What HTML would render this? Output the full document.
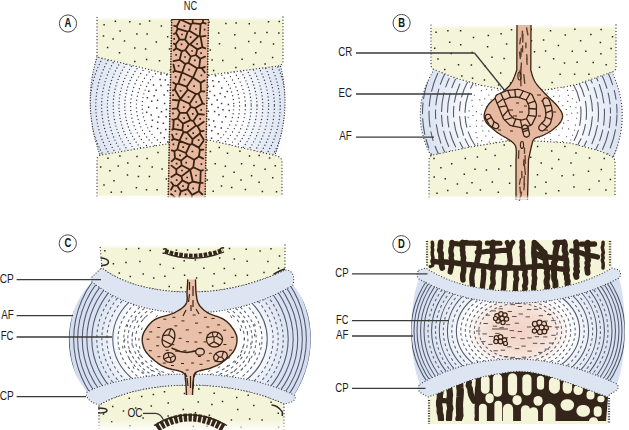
<!DOCTYPE html><html><head><meta charset="utf-8"><style>html,body{margin:0;padding:0;background:#fff;overflow:hidden;width:629px;height:430px}svg{display:block}</style></head><body><svg width="629" height="430" viewBox="0 0 629 430"><defs><linearGradient id="fadeY" x1="0" y1="0" x2="0" y2="1"><stop offset="0" stop-color="#fff" stop-opacity="1"/><stop offset="1" stop-color="#fff" stop-opacity="0"/></linearGradient><linearGradient id="fadeB" x1="0" y1="0" x2="0" y2="1"><stop offset="0" stop-color="#fff" stop-opacity="0"/><stop offset="1" stop-color="#fff" stop-opacity="1"/></linearGradient><linearGradient id="fadeB2" x1="0" y1="0" x2="0" y2="1"><stop offset="0" stop-color="#fff" stop-opacity="0"/><stop offset="1" stop-color="#fff" stop-opacity="0.85"/></linearGradient><radialGradient id="gA" cx="188" cy="106" r="100" gradientUnits="userSpaceOnUse"><stop offset="0" stop-color="#fff"/><stop offset="0.55" stop-color="#fff"/><stop offset="0.75" stop-color="#ebf0f8"/><stop offset="1" stop-color="#dce4f3"/></radialGradient><clipPath id="cA"><path d="M97,57 172,75 209,75 280,64 281.5,70 282.7,76 283.6,82 284.3,88.1 284.8,94.1 285,100.2 284.9,106.2 284.6,112.3 284,118.4 283.1,124.4 282,130.5 280.6,136.6 279,142.8 277.1,148.9 275,155 209,143 172,143 100,155 97.7,148.3 95.8,141.7 94.1,135.1 92.7,128.5 91.7,121.9 90.9,115.3 90.4,108.8 90.2,102.2 90.3,95.7 90.7,89.2 91.3,82.7 92.3,76.3 93.6,69.8 95.1,63.4 97,57Z"/></clipPath><radialGradient id="gB" cx="523" cy="113" r="103" gradientUnits="userSpaceOnUse"><stop offset="0" stop-color="#fff"/><stop offset="0.5" stop-color="#fff"/><stop offset="0.64" stop-color="#f2f5fb"/><stop offset="0.85" stop-color="#e2e9f5"/><stop offset="1" stop-color="#d9e2f2"/></radialGradient><clipPath id="cB"><path d="M434,69.5 455,77.9 480,85 505,90 545,90 575,85 612,72 614.5,77.6 616.6,83.2 618.4,88.9 619.9,94.5 621,100.2 621.8,105.9 622.2,111.6 622.2,117.4 622,123.1 621.3,128.9 620.4,134.7 619,140.5 617.4,146.3 615.4,152.1 613,158 600,151 570,143 537,141 507,141 470,147 431,156 428.2,150.1 425.7,144.3 423.8,138.5 422.2,132.6 421.1,126.8 420.4,121 420.2,115.3 420.4,109.5 421,103.7 422.1,98 423.6,92.3 425.6,86.6 427.9,80.9 430.8,75.2 434,69.5Z"/></clipPath><radialGradient id="gC" cx="190" cy="342" r="122" gradientUnits="userSpaceOnUse" gradientTransform="translate(190 342) scale(1 0.75) translate(-190 -342)"><stop offset="0" stop-color="#fff"/><stop offset="0.56" stop-color="#fff"/><stop offset="0.68" stop-color="#edf1f9"/><stop offset="0.82" stop-color="#dae2f2"/><stop offset="1" stop-color="#d4ddef"/></radialGradient><clipPath id="cC"><path d="M92,282 94.9,284.2 98.1,286.5 101.5,288.8 105,291.1 108.8,293.3 112.9,295.5 117.2,297.7 121.7,299.8 126.5,301.8 131.6,303.7 136.9,305.5 142.5,307.1 148.4,308.5 154.5,309.8 161,310.9 167.8,311.8 174.9,312.5 182.3,312.9 190,313 197,312.9 203.9,312.6 210.6,312 217.1,311.3 223.4,310.3 229.6,309.3 235.6,308 241.4,306.6 247,305.1 252.5,303.4 257.7,301.6 262.8,299.8 267.7,297.8 272.4,295.8 276.9,293.7 281.2,291.6 285.3,289.4 289.3,287.2 293,285 92,282 87.5,286.9 83.5,292.1 80,297.5 77,303.2 74.5,309.1 72.4,315.1 70.8,321.3 69.7,327.5 69,333.8 68.8,340.2 69.1,346.5 69.8,352.7 71,358.9 72.5,364.9 74.6,370.8 77,376.5 79.9,381.9 83.3,387.1 87,392 90.8,390.2 94.8,388.4 99.1,386.8 103.6,385.2 108.4,383.8 113.3,382.4 118.5,381.2 123.8,380 129.3,379 135,378 140.7,377.2 146.6,376.4 152.6,375.8 158.7,375.2 164.9,374.8 171.1,374.4 177.4,374.2 183.7,374 190,374 196.3,374.1 202.5,374.2 208.6,374.5 214.6,374.9 220.5,375.5 226.4,376.1 232.1,376.9 237.8,377.7 243.4,378.7 248.9,379.8 254.3,381 259.6,382.4 264.8,383.8 269.9,385.4 274.9,387.1 279.8,388.9 284.6,390.8 289.4,392.8 294,395 297.4,389.7 300.4,384.1 303,378.3 305.2,372.3 307.1,366.1 308.6,359.9 309.7,353.6 310.4,347.3 310.7,340.9 310.7,334.6 310.3,328.4 309.5,322.2 308.3,316.2 306.7,310.4 304.7,304.7 302.4,299.4 299.6,294.2 296.5,289.4 293,285Z"/></clipPath><radialGradient id="gD" cx="518" cy="331" r="110" gradientUnits="userSpaceOnUse" gradientTransform="translate(518 331) scale(1 0.72) translate(-518 -331)"><stop offset="0" stop-color="#f2d3c5"/><stop offset="0.24" stop-color="#f4dcd1"/><stop offset="0.38" stop-color="#f9ece6"/><stop offset="0.48" stop-color="#fff"/><stop offset="0.6" stop-color="#eef2f9"/><stop offset="0.8" stop-color="#dde4f2"/><stop offset="1" stop-color="#d6dff0"/></radialGradient><clipPath id="cD"><path d="M419,279 423.9,281.6 428.8,284 433.6,286.3 438.5,288.4 443.4,290.4 448.3,292.2 453.3,293.9 458.2,295.4 463.2,296.7 468.3,298 473.4,299.1 478.6,300 483.8,300.8 489.1,301.5 494.5,302 500,302.5 505.5,302.8 511.2,302.9 517,303 522.2,302.9 527.5,302.8 532.8,302.5 538.1,302 543.4,301.5 548.8,300.8 554.1,299.9 559.5,299 564.9,297.9 570.3,296.6 575.7,295.2 581.2,293.6 586.6,291.9 592,290 597.4,287.9 602.8,285.7 608.2,283.3 613.6,280.8 619,278 419,279 417.4,283.3 416,288 414.8,293.1 413.8,298.5 412.9,304.2 412.2,310 411.7,316 411.4,322.2 411.3,328.4 411.3,334.6 411.5,340.8 411.9,347 412.5,353 413.3,358.8 414.3,364.5 415.4,369.9 416.7,375 418.3,379.7 420,384 424.7,381.4 429.5,378.9 434.2,376.6 439,374.5 443.8,372.4 448.6,370.6 453.4,368.8 458.3,367.2 463.2,365.8 468.1,364.5 473.1,363.3 478.1,362.3 483.2,361.4 488.3,360.7 493.5,360.1 498.8,359.6 504.1,359.3 509.5,359.1 515,359 520.5,359.1 526,359.3 531.6,359.7 537.1,360.3 542.6,361 548.1,361.8 553.5,362.8 559,363.9 564.4,365.2 569.8,366.6 575.2,368.1 580.6,369.7 585.9,371.4 591.2,373.3 596.4,375.2 601.6,377.3 606.8,379.4 611.9,381.7 617,384 618.5,379.7 619.8,375 621,369.9 622,364.5 622.9,358.8 623.5,353 624.1,346.9 624.5,340.8 624.7,334.5 624.8,328.2 624.7,322 624.5,315.8 624.1,309.7 623.6,303.8 623,298 622.2,292.5 621.3,287.3 620.2,282.5 619,278Z"/></clipPath><clipPath id="cBT"><path d="M430,239 606,239 612,268 607.7,270.5 603.4,272.8 599,274.9 594.5,276.9 590,278.8 585.4,280.5 580.7,282.1 575.9,283.6 571.1,284.9 566.1,286.1 561.1,287.1 556,288 550.8,288.8 545.4,289.5 540,290.1 534.4,290.5 528.7,290.8 522.9,290.9 517,291 511.2,290.9 505.5,290.8 500,290.5 494.6,290.1 489.2,289.5 484,288.8 478.9,288 473.9,287.1 469,286.1 464.3,284.9 459.6,283.6 455,282.1 450.6,280.5 446.2,278.8 442,276.9 437.8,274.9 433.8,272.8 429.8,270.5 426,268Z"/></clipPath><clipPath id="cBB"><path d="M428,397 429.2,396.6 430.8,396 432.8,395.3 435,394.5 437.4,393.5 440,392.5 442.9,391.3 446.1,389.9 449.5,388.4 453,386.8 456.6,385.3 460,384 463.2,382.8 466.1,381.7 469.1,380.6 472.2,379.6 475.8,378.5 480,377.5 485.1,376.4 490.9,375.1 497.2,373.9 503.5,372.9 509.6,372 515,371.5 519.6,371.3 523.7,371.4 527.5,371.7 531.3,372.2 535.4,373 540,374 545.3,375.3 551,377 557,378.9 563.1,380.9 569.2,383 575,385 581,387.1 587.4,389.4 593.7,391.7 599.5,393.9 604.4,395.7 608,397 606,421 436,421Z"/></clipPath></defs><rect width="629" height="430" fill="#fff"/><path d="M97,57 172,75 209,75 280,64 281.5,70 282.7,76 283.6,82 284.3,88.1 284.8,94.1 285,100.2 284.9,106.2 284.6,112.3 284,118.4 283.1,124.4 282,130.5 280.6,136.6 279,142.8 277.1,148.9 275,155 209,143 172,143 100,155 97.7,148.3 95.8,141.7 94.1,135.1 92.7,128.5 91.7,121.9 90.9,115.3 90.4,108.8 90.2,102.2 90.3,95.7 90.7,89.2 91.3,82.7 92.3,76.3 93.6,69.8 95.1,63.4 97,57Z" fill="url(#gA)"/>
<g clip-path="url(#cA)" fill="none" stroke="#3c3c44" stroke-linecap="round"><circle cx="188" cy="106" r="98" stroke-width="1.4" stroke-dasharray="0 3.4"/><circle cx="188" cy="106" r="92.2" stroke-width="1.4" stroke-dasharray="0 3.4"/><circle cx="188" cy="106" r="86.4" stroke-width="1.4" stroke-dasharray="0 3.4"/><circle cx="188" cy="106" r="80.6" stroke-width="1.4" stroke-dasharray="0 3.4"/><circle cx="188" cy="106" r="74.8" stroke-width="1.4" stroke-dasharray="0 3.4"/><circle cx="188" cy="106" r="69" stroke-width="1.4" stroke-dasharray="0 3.4"/><circle cx="188" cy="106" r="63.2" stroke-width="1.4" stroke-dasharray="0 3.4"/><circle cx="188" cy="106" r="57.4" stroke-width="1.4" stroke-dasharray="0 3.9"/><circle cx="188" cy="106" r="51.6" stroke-width="1.4" stroke-dasharray="0 3.9"/><circle cx="188" cy="106" r="45.8" stroke-width="1.4" stroke-dasharray="0 3.9"/></g>
<path d="M156.8,108h0M225.7,116.7h0M177,108.9h0M201.7,92.2h0M157.6,128.5h0M202.3,109h0M214.6,111.6h0M192.5,106.9h0M175.7,114.6h0M165.8,129.5h0M218.9,81.8h0M185.2,92.3h0M182.1,83.2h0M202.6,87h0M221.7,88.1h0M222.1,122.1h0M184.6,121.6h0M171.9,95.2h0M153.5,84.9h0M208.1,86.6h0M151.2,115.1h0M213.6,86.2h0M170.6,124.2h0M187.4,133.1h0M164.2,95h0M167.7,141.9h0M225,96.8h0M208.7,75.5h0M151.7,101.3h0M208.3,111.3h0M201.6,121.7h0M211.6,138.3h0M158.6,117h0M176.2,84.3h0M187.9,78.3h0M197.3,89.1h0M192.6,117.8h0M172.5,100.7h0M213.7,121.1h0M206.4,129.7h0M209.9,91.6h0M157.6,100.3h0M166.1,116.8h0M176,124.7h0M154.1,95.7h0M211.8,104.4h0M193.5,77.1h0M192.6,130.4h0M198,104.9h0M182,133h0M229.2,110.6h0M163.4,123.2h0M191.5,93.1h0M176.7,135.5h0M208.7,98.6h0M202.6,99.1h0M183.7,141.2h0M186.1,109.8h0M179.4,101h0M166.7,74.8h0M193.4,135.5h0M178.3,95.2h0M178.5,76.3h0M203,76.2h0M170.7,131.3h0M220.2,93.6h0M161,85.5h0M221.3,127.9h0M205.6,139h0M217.2,100.1h0M197.8,117.2h0M192.5,140.8h0M167.7,90.7h0M218.9,114.8h0M164.3,137.8h0M166.4,109.4h0M228.4,104.5h0M199.7,137.9h0M192.4,82.9h0M183.2,115.7h0M160.1,79.4h0M168.1,84.8h0M186.4,101.6h0M148.8,91.3h0M164.6,103.6h0M152.4,120.3h0M172.1,79.7h0M209.3,125.2h0M148.6,107.3h0M221.6,103.5h0M193.1,99.8h0M212.8,80.8h0M211.7,130.8h0M180.2,89.4h0M200.5,128.7h0M202.7,81.6h0M170.3,105.6h0M160.7,133h0M208.8,119.5h0M189.5,123.7h0M204.4,116.3h0M175.6,140.9h0M174.6,89.5h0M218.1,107.4h0M196.1,122.3h0M185,128.1h0M223,109.7h0M157.7,122.3h0M188.6,88h0M151.5,126.4h0M172.7,119h0M195.9,112h0M218.2,133.7h0M161.5,111.7h0M169.5,136.4h0M147.4,97.8h0M215.5,75.8h0M179.3,119.2h0M171.1,112h0M206,103.7h0M156.2,90.3h0M215.1,126.8h0M227.3,91.5h0M214.5,95.6h0M165.3,80.1h0M197.6,96.1h0M182.6,105.5h0M177.7,129.7h0M198.1,142.9h0M183.7,75.1h0M146.7,112.2h0M197.7,83.6h0M161,73.9h0" stroke="#3c3c44" stroke-width="1.5" stroke-linecap="square" fill="none"/>
<path d="M97,57 95.1,63.4 93.6,69.8 92.3,76.3 91.3,82.7 90.7,89.2 90.3,95.7 90.2,102.2 90.4,108.8 90.9,115.3 91.7,121.9 92.7,128.5 94.1,135.1 95.8,141.7 97.7,148.3 100,155" fill="none" stroke="#333" stroke-width="1.3" stroke-dasharray="0 2.6" stroke-linecap="round"/>
<path d="M280,64 281.5,70 282.7,76 283.6,82 284.3,88.1 284.8,94.1 285,100.2 284.9,106.2 284.6,112.3 284,118.4 283.1,124.4 282,130.5 280.6,136.6 279,142.8 277.1,148.9 275,155" fill="none" stroke="#333" stroke-width="1.3" stroke-dasharray="0 2.6" stroke-linecap="round"/>
<path d="M97,17 283,17 283,61 283,61 283,61.5 282.9,62 282.8,62.5 282.6,62.9 282.4,63.3 282.2,63.7 281.9,64.1 281.6,64.4 281.2,64.7 280.8,65 280.3,65.3 279.8,65.5 279.2,65.7 278.6,65.9 278,66 209,75 172,75 97,57Z" fill="#f4f4d8"/>
<rect x="96" y="17" width="188" height="4" fill="url(#fadeY)"/>
<path d="M192.1,69h0M156.3,42.1h0M248.7,41.4h0M198.9,21.9h0M235.4,47.9h0M159.5,60.7h0M124.5,41.1h0M136.9,33.9h0M234.8,34.8h0M272.6,57.5h0M197.4,34.6h0M212.1,60.1h0M107.6,47.5h0M182.7,23.7h0M191.9,58.9h0M222.8,60.6h0M134.8,61.4h0M253.6,64.4h0M149.6,20.9h0M260.7,42.1h0M218.7,33h0M249.3,23.7h0M167.7,36.7h0M171.4,20.8h0M119.5,52.8h0M255.8,52.7h0M278.8,32.9h0M146.6,59.4h0M219.5,43.8h0M180.8,39.3h0M120.1,30.9h0M242.1,59.2h0M170.3,70.2h0M103.5,36h0M208.2,35.2h0M134.8,47.9h0M181.2,69.3h0M268.5,21.7h0M147.1,34h0M209.1,22.2h0M177.4,55.4h0M104.1,24.7h0M129.8,21.7h0M200.3,45.9h0M273.5,43.9h0M169.5,49.1h0M188.9,47.1h0M267,32.4h0M213.6,70.5h0M161.4,26.1h0M235.9,67.5h0M236.1,22.9h0M145.6,48.9h0M225.9,23.4h0M201.8,66.4h0M115.4,21.2h0M265.1,64.1h0M140,24h0M210.3,49.9h0M255,33.1h0M279.3,21.5h0M113.1,39h0" stroke="#2a2a2a" stroke-width="1.5" stroke-linecap="square" fill="none"/>
<path d="M283,17 283,61 283,61 283,61.5 282.9,62 282.8,62.5 282.6,62.9 282.4,63.3 282.2,63.7 281.9,64.1 281.6,64.4 281.2,64.7 280.8,65 280.3,65.3 279.8,65.5 279.2,65.7 278.6,65.9 278,66 209,75 172,75 97,57 97,57 97,17" fill="none" stroke="#333" stroke-width="1.3" stroke-dasharray="0 3.2" stroke-linecap="round"/>
<path d="M97,196 97,160 97,160 97,159.5 97.1,159 97.2,158.5 97.3,158.1 97.4,157.7 97.6,157.3 97.9,156.9 98.1,156.6 98.4,156.3 98.8,156 99.2,155.7 99.6,155.5 100,155.3 100.5,155.1 101,155 172,143 209,140 273,155 273,155 274,155.2 275,155.3 275.9,155.6 276.8,155.8 277.6,156.1 278.3,156.4 278.9,156.8 279.5,157.2 280.1,157.6 280.6,158.1 281,158.6 281.3,159.2 281.6,159.7 281.8,160.4 282,161 282,197Z" fill="#f4f4d8"/>
<path d="M147.1,158.4h0M207.3,179.9h0M149.4,176.4h0M200.6,151h0M177.5,177h0M272.7,177.7h0M170.2,152.9h0M162.1,169.1h0M259.1,182.3h0M157.1,189.7h0M136.4,187.7h0M221.5,186h0M215.2,163.8h0M192.5,173.2h0M254,165.4h0M225.4,166.3h0M169,192.2h0M104,185.1h0M118.2,166h0M190.2,190.4h0M234.1,172.2h0M108,158.3h0M275.3,165.8h0M178.9,158.6h0M262.4,191.6h0M241.6,163.8h0M227.5,153.2h0M137,156.4h0M121.4,191.9h0M259.2,155.6h0M127.8,163h0M201.8,191.5h0M231.7,187.6h0M241,179.9h0M114,180.8h0M276.5,191.7h0M188.2,155.7h0M210.4,151.5h0M158,152.6h0M245.4,189.4h0M109.9,170.7h0M139.5,166.2h0M181,186h0M202.8,160.7h0M265.1,169.3h0M191.6,146.4h0M127.5,175h0M207,169.9h0M146.5,189.7h0M166.3,178.9h0M239.9,151.2h0M213.2,191.3h0M138.4,176.6h0M223.1,176.6h0M172.6,168.7h0M100.7,166.9h0M269.6,158h0M179,146.6h0M249.5,156h0M251.6,175.7h0M152.2,167h0M183,169h0M119.9,156.1h0M111.3,192.2h0M219.3,147.5h0M197.5,182.9h0" stroke="#2a2a2a" stroke-width="1.5" stroke-linecap="square" fill="none"/>
<path d="M97,196 97,160 97,160 97,159.5 97.1,159 97.2,158.5 97.3,158.1 97.4,157.7 97.6,157.3 97.9,156.9 98.1,156.6 98.4,156.3 98.8,156 99.2,155.7 99.6,155.5 100,155.3 100.5,155.1 101,155 172,143 209,140 273,155 273,155 274,155.2 275,155.3 275.9,155.6 276.8,155.8 277.6,156.1 278.3,156.4 278.9,156.8 279.5,157.2 280.1,157.6 280.6,158.1 281,158.6 281.3,159.2 281.6,159.7 281.8,160.4 282,161 282,197" fill="none" stroke="#333" stroke-width="1.3" stroke-dasharray="0 3.2" stroke-linecap="round"/>
<path d="M171.5,19 208.7,19 205.3,198 168,198Z" fill="#e7b9a1"/>
<path d="M192.7,20L192.7,23.1M203,20L203,22.6M192.7,23.1L200.6,24.1M203,22.6L200.6,24.1M192.7,23.1L191,24.4M191,24.4L181.5,20M174.2,25.9L176.8,26.4M180,20L176.8,26.4M179.8,112.8L177.5,118.4M177.5,118.4L173.7,119.9M177.3,108.4L172.6,108.9M179.8,112.8L177.3,108.4M173.7,119.9L172.4,119.5M177.5,118.4L183.1,123.6M173.7,119.9L173.2,128.9M183.1,123.6L182.3,130.3M182.3,130.3L173.2,128.9M198.8,191.2L202.5,194.5M198.8,191.2L192.2,194.9M192.2,194.9L191.7,197M177.3,108.4L179.2,100.5M172.8,99.8L179.2,100.5M179.5,140.6L183.5,132M182.3,130.3L183.5,132M173.2,128.9L172.2,129.7M179.5,140.6L173.7,138.9M173.7,138.9L172.1,134.7M198.8,191.2L199.9,183.1M199.9,183.1L200.3,182.8M200.3,182.8L202.8,182.8M171,194L174.7,197M192.2,194.9L187.6,189.1M179.1,197L180.9,191.3M187.6,189.1L180.9,191.3M173.5,185.3L177.2,185.8M173.5,185.3L171,189.7M180.9,191.3L177.2,185.8M174.8,89.5L180.4,99.1M174.8,89.5L176.3,84.4M176.3,84.4L178.3,83.7M178.3,83.7L186.7,86.7M180.4,99.1L187.8,89.8M186.7,86.7L187.8,89.8M172.9,90.4L174.8,89.5M180.4,99.5L180.4,99.1M179.2,100.5L180.4,99.5M173.1,82.5L176.3,84.4M180.4,99.5L189.6,103.8M187.8,89.8L195.9,94M195.9,94L189.6,103.8M192.9,77.5L193,77.5M192.9,77.5L186.7,86.7M193,77.5L200.7,82.7M200.9,91.1L200.7,82.7M200.9,91.1L198.5,93.6M195.9,94L198.5,93.6M199.9,133.5L203.6,139.4M199.9,133.5L200.3,131.3M200.3,131.3L203.7,130.9M204.7,80.4L200.7,82.7M200.9,91.1L204.5,91.5M198.5,93.6L202.6,103.4M204.2,104L202.6,103.4M183.1,123.6L190.5,120.1M179.8,112.8L186.8,112.6M190.5,120.1L186.8,112.6M189.6,103.8L190.9,106.8M186.8,112.6L190.9,106.8M202.6,103.4L195.2,108.1M190.9,106.8L195.2,108.1M196,125.6L193.3,121.1M196,125.6L197.5,126.3M197.5,126.3L203.9,121.7M193.3,121.1L198,114M204,114.6L198,114M186.9,132.5L183.5,132M190.5,120.1L193.3,121.1M186.9,132.5L196,125.6M192.6,139.2L186.9,132.5M192.6,139.2L199.9,133.5M200.3,131.3L197.5,126.3M195.2,108.1L198,114M171.8,150.4L174.4,151.2M171.6,161.3L175,158.1M174.4,151.2L175,158.1M173.7,138.9L172,140M179.6,140.9L179.5,140.6M177.3,149.5L179.6,140.9M177.3,149.5L174.4,151.2M176.3,169.4L181.6,165.3M176.3,169.4L171.5,165.6M181.6,165.3L181.1,160.6M181.1,160.6L175,158.1M176.4,173.7L171.3,177.1M176.4,173.7L176.3,169.4M171.2,182.2L173.5,185.3M200.3,182.8L200.7,170.8M203,170.1L200.7,170.8M186,153L186.9,155.7M186,153L189.9,144.8M186.9,155.7L194.2,159.8M198.9,156.4L194.2,159.8M198.9,156.4L199.9,150M189.9,144.8L192,143.9M192,143.9L198.8,147.6M199.9,150L198.8,147.6M177.3,149.5L186,153M181.1,160.6L186.9,155.7M179.6,140.9L189.9,144.8M190.1,169.8L193.3,167.3M190.1,169.8L181.6,165.3M193.3,167.3L194.2,159.8M193.3,167.3L200.7,170.8M203.2,158.6L198.9,156.4M203.4,149.7L199.9,150M192.6,139.2L192,143.9M203.5,140.9L198.8,147.6M181.4,176.4L182.4,180.4M181.4,176.4L190.1,169.8M182.4,180.4L188.8,183.6M190.1,169.8L192.8,181.5M192.8,181.5L188.8,183.6M176.4,173.7L181.4,176.4M177.2,185.8L182.4,180.4M190.1,169.8L190.1,169.8M187.6,189.1L188.8,183.6M199.9,183.1L192.8,181.5M199.7,36.2L200.5,36.6M200.6,24.1L199.7,36.2M203,22.6L205.7,23.6M200.5,36.6L205.5,35.9M188.5,62.9L185.3,63.9M197.1,68.3L188.5,62.9M193,77.5L197.1,68.3M192.9,77.5L182.1,72.5M185.3,63.9L182.1,72.5M173.3,72L175,70.8M178.3,83.7L181.9,72.6M175,70.8L181.9,72.6M181.9,72.6L182.1,72.5M200.5,36.6L202.4,47.1M197.3,49.3L202.4,47.1M199.7,36.2L198.2,36.3M197.3,49.3L190.1,44.3M190.1,44.3L198.2,36.3M191,24.4L189.4,30.7M198.2,36.3L189.4,30.7M176.8,26.4L177.5,28.6M177.5,28.6L187.6,31.7M189.4,30.7L187.6,31.7M177.5,28.6L176.1,33M174,33.9L176.1,33M200.3,58.7L205.1,56.6M200.3,58.7L199.1,67.5M201.7,68.1L199.1,67.5M201.7,68.1L204.9,66.8M197.3,49.3L195.9,55M195.9,55L200.3,58.7M202.4,47.1L205.3,48.4M190.8,56.5L188.5,62.9M190.8,56.5L195.9,55M197.1,68.3L199.1,67.5M204.8,72.5L201.7,68.1M185.3,63.9L179.6,59.8M175,70.8L173.4,64.5M179.6,59.8L173.5,61.2M175.6,44.5L179.5,39.3M175.6,44.5L176.3,48.3M176.3,48.3L181.8,51.1M179.5,39.3L185.1,39.6M185.3,50.1L181.8,51.1M185.3,50.1L188.9,44.4M188.9,44.4L185.1,39.6M176.1,33L179.5,39.3M173.8,43.6L175.6,44.5M173.7,50.2L176.3,48.3M179.6,59.8L181.8,51.1M187.6,31.7L185.1,39.6M190.8,56.5L185.3,50.1M190.1,44.3L188.9,44.4" fill="none" stroke="#3a2313" stroke-width="1.8" stroke-linecap="round" stroke-linejoin="round"/>
<path d="M201.4,164.2h0M189,69.7h0M184.4,26.2h0M194.9,60.4h0M185.6,194.3h0M183.8,107.2h0M195.9,29h0M204.6,29.6h0M196,175.5h0M176.7,180.1h0M188.5,97h0M175.7,76.8h0M201.4,75.3h0M173.4,144.4h0M186.2,162.6h0M201.2,109.8h0M198.7,140.1h0M196.2,102h0M176.5,134h0M194.1,86.1h0M201.1,53.1h0M183.2,147.1h0M193.2,188.3h0M184.1,118.1h0M180.5,90.8h0M173,113.4h0M190.6,37.2h0M186.4,138.7h0M192.4,151.5h0M176.1,54.8h0M188,126.2h0M187.2,177.5h0M192.1,51h0M200.2,118.8h0M185.1,57h0M175.3,191.1h0M181.5,44.4h0M178.6,65.9h0M184.4,79.6h0M176.6,163.6h0M193.2,133.1h0M177.8,125h0M182,34.5h0M192.8,113.8h0M197.1,43.9h0M180,155.3h0M183,186.1h0M173.1,95.1h0M182,170.5h0M174.2,38.8h0" stroke="#3a2313" stroke-width="1.7" stroke-linecap="square" fill="none"/>
<path d="M171.7,20L168.2,198M208.5,20L205.1,198" fill="none" stroke="#3a2313" stroke-width="1.7" stroke-dasharray="0 2.6" stroke-linecap="round"/>
<path d="M171.5,19.5H208.7" stroke="#3a2313" stroke-width="1.2"/>
<rect x="95" y="194.5" width="190" height="4" fill="url(#fadeB)"/>
<circle cx="68" cy="23.5" r="8.6" fill="#fff" stroke="#4a4a4a" stroke-width="1"/>
<text x="68" y="27" font-family="Liberation Sans" font-weight="bold" font-size="12" text-anchor="middle" textLength="6.8" lengthAdjust="spacingAndGlyphs" fill="#111">A</text>
<text x="190.5" y="10.3" font-family="Liberation Sans" font-size="12" textLength="13.4" lengthAdjust="spacingAndGlyphs" text-anchor="middle" fill="#1c1c1c">NC</text>
<path d="M434,69.5 455,77.9 480,85 505,90 545,90 575,85 612,72 614.5,77.6 616.6,83.2 618.4,88.9 619.9,94.5 621,100.2 621.8,105.9 622.2,111.6 622.2,117.4 622,123.1 621.3,128.9 620.4,134.7 619,140.5 617.4,146.3 615.4,152.1 613,158 600,151 570,143 537,141 507,141 470,147 431,156 428.2,150.1 425.7,144.3 423.8,138.5 422.2,132.6 421.1,126.8 420.4,121 420.2,115.3 420.4,109.5 421,103.7 422.1,98 423.6,92.3 425.6,86.6 427.9,80.9 430.8,75.2 434,69.5Z" fill="url(#gB)"/>
<g clip-path="url(#cB)" fill="none" stroke="#575b66" stroke-width="1.1" stroke-linecap="round"><circle cx="523" cy="113" r="58" stroke-dasharray="16 5 11 4 19 6 9 5" stroke-dashoffset="3.4"/><circle cx="523" cy="113" r="63.5" stroke-dasharray="16 5 11 4 19 6 9 5" stroke-dashoffset="9.5"/><circle cx="523" cy="113" r="69.5" stroke-dasharray="16 5 11 4 19 6 9 5" stroke-dashoffset="32.1"/><circle cx="523" cy="113" r="75.5" stroke-dasharray="16 5 11 4 19 6 9 5" stroke-dashoffset="23.3"/><circle cx="523" cy="113" r="81.5" stroke-dasharray="16 5 11 4 19 6 9 5" stroke-dashoffset="3.8"/><circle cx="523" cy="113" r="87.5" stroke-dasharray="16 5 11 4 19 6 9 5" stroke-dashoffset="17.3"/><circle cx="523" cy="113" r="94" stroke-dasharray="16 5 11 4 19 6 9 5" stroke-dashoffset="19.2"/><circle cx="523" cy="113" r="100.5" stroke-dasharray="16 5 11 4 19 6 9 5" stroke-dashoffset="6.4"/></g>
<path d="M495.6,142.3h0M488.8,95h0M506.5,98.2h0M541.7,91.1h0M566.6,136.8h0M468.3,117.3h0M479.8,99.9h0M513.9,111.9h0M496.5,95.5h0M539.4,137.7h0M512.9,97.5h0M555.2,124.7h0M553.7,96.4h0M482.8,131h0M482.9,120.9h0M514.1,103.9h0M568.6,128.9h0M534,127.8h0M527,118.4h0M567.7,101.4h0M571.7,113.3h0M556.1,129.8h0M566.8,114.8h0M517.4,126.3h0M535.8,110.9h0M558.1,90.3h0M512.5,131h0M476.5,126.3h0M502.1,126.6h0M477,137.6h0M544.5,132.2h0M489.2,142h0M481.4,90.6h0M544.6,138.7h0M518.7,132.9h0M553.3,102h0M550.6,139.6h0M522.9,113.9h0M544.4,99.1h0M481.6,140.7h0M544.5,108.9h0M476.1,132.6h0M498.4,132.8h0M552.6,110.6h0M512.7,138.6h0M502.5,117.6h0M531.6,105h0M521.8,119.5h0M575.9,107.7h0M474.3,95.3h0M534.3,99.8h0M488.8,131.1h0M481.9,105.3h0M492.6,137.3h0M486.8,117.4h0M550.2,125.9h0M558.7,101.6h0M550.1,133.5h0M559,135.2h0M552.1,89.2h0M522.8,102.6h0M527.3,94h0M511.3,122.4h0M546.7,117.4h0M568.1,120.5h0M531.8,115.8h0M574.4,130.3h0M507.4,140.9h0M570.6,85.7h0M501.2,139.3h0M560.6,118.7h0M501.5,108h0M562.9,105.8h0M536.8,92.4h0M498.1,90.3h0M481.3,114.3h0M538.3,131.4h0M504.1,132.9h0M540.2,116.2h0M496,126.7h0M551.8,119.1h0M572.4,98.8h0M503.4,91.9h0M568.3,95.4h0M506.9,103.8h0M517,116.1h0M493.2,113.6h0M556,141.8h0M527.1,140h0M486.8,106.7h0M488,123.9h0M472.6,106.2h0M491,99.7h0M525.7,124.5h0M542.8,121.6h0M473,115.5h0M556.4,106.6h0M509.9,92.9h0M481.1,85.5h0M534.1,136.9h0M524.3,129.9h0M476.5,120.7h0M519.2,106.9h0M521.5,95h0M477.6,143.9h0M492.6,118.8h0M575.4,125.1h0M519.8,90.2h0M498.9,121.1h0M528.6,132.8h0M562.3,128.1h0M528,100.8h0M576.5,102.3h0M486.6,89.2h0M536.8,104.2h0M496.6,103.1h0M537.2,123.2h0M484.7,98.8h0M508.7,111.4h0M491.7,105.2h0M510.4,116.6h0M518,99.7h0M527.6,110.6h0M470,126.4h0M548.2,105h0M476.4,111.6h0M576.6,118.3h0M485.9,136h0M547.2,93.3h0M562.7,141.5h0M531.9,90.7h0M560.4,111.3h0M559.4,96h0M469.1,110.9h0M563.1,87.7h0M517.7,139.1h0M570.8,140h0M508.2,126.4h0M501,100.6h0M500.6,112.9h0M556.1,115.9h0M488.5,111.6h0M570.5,106.7h0M531.4,122.3h0M543.3,126.8h0M476,85.8h0M472,100.4h0M573,90.5h0M506.4,121.1h0M522.3,136.7h0M538.6,97.3h0M566.3,109.5h0M491.7,89.9h0M515,92.3h0M481.9,126h0M516.4,121.4h0M572.5,135.2h0M567.5,90.4h0M508.6,135.4h0M563.6,123.1h0M496.5,108.8h0M577.4,112.9h0M542.2,103.8h0" stroke="#5a5c64" stroke-width="1.1" stroke-linecap="square" fill="none"/>
<path d="M434,69.5 430.8,75.2 427.9,80.9 425.6,86.6 423.6,92.3 422.1,98 421,103.7 420.4,109.5 420.2,115.3 420.4,121 421.1,126.8 422.2,132.6 423.8,138.5 425.7,144.3 428.2,150.1 431,156" fill="none" stroke="#333" stroke-width="1.2" stroke-dasharray="0 3" stroke-linecap="round"/>
<path d="M612,72 614.5,77.6 616.6,83.2 618.4,88.9 619.9,94.5 621,100.2 621.8,105.9 622.2,111.6 622.2,117.4 622,123.1 621.3,128.9 620.4,134.7 619,140.5 617.4,146.3 615.4,152.1 613,158" fill="none" stroke="#333" stroke-width="1.2" stroke-dasharray="0 3" stroke-linecap="round"/>
<path d="M431,25 616,25 616,67 616,67 616,67.5 615.9,68 615.8,68.5 615.7,68.9 615.6,69.3 615.4,69.7 615.1,70.1 614.9,70.4 614.6,70.7 614.2,71 613.8,71.3 613.4,71.5 613,71.7 612.5,71.9 612,72 575,85 545,90 505,90 480,85 455,77.9 434,69.5 433.6,69.4 433.3,69.2 432.9,69 432.6,68.7 432.3,68.4 432.1,68.1 431.9,67.8 431.7,67.4 431.5,67 431.3,66.6 431.2,66.2 431.1,65.7 431.1,65.1 431,64.6 431,64Z" fill="#f4f4d8"/>
<rect x="430" y="25" width="187" height="4" fill="url(#fadeY)"/>
<path d="M449.7,42.2h0M577.1,62.3h0M451.3,53.6h0M519.8,37.8h0M565.3,35.1h0M504.1,58.5h0M485.1,66.1h0M558.4,45.5h0M487.6,46.7h0M593.2,62.4h0M518.4,73.4h0M501.1,33.8h0M552.1,82.5h0M471.4,65h0M590.9,34.4h0M585.8,51.3h0M534.5,51.7h0M543.6,39.9h0M606.2,64.7h0M574.6,74.3h0M472.6,78.3h0M539.5,67.3h0M553.6,58.8h0M520.1,59.6h0M572.3,51.3h0M438,59.1h0M531.8,81.9h0M600.4,42.6h0M460.7,44.7h0M612.5,36.8h0M436.1,32.2h0M506.6,43.9h0M500.7,72.9h0M434.7,48.2h0M484.4,79.9h0M458.5,64.7h0M580.6,40.7h0M510.6,83.1h0M564.5,62.9h0M488.3,35.4h0M588.9,74.2h0M473.5,37.5h0M560.1,74.2h0M447.9,30.8h0M574.9,29.3h0M472.2,52.6h0M444.7,69.5h0M611.1,48.6h0M550.5,30.7h0M460.6,30.7h0M601.1,29.4h0M531.1,29.5h0M498.6,85h0M531.5,40.7h0M517.8,48.6h0M600.9,53.8h0M492,57.2h0M511.5,29.8h0M527.8,67.6h0M461.8,75.9h0M545.6,51h0" stroke="#2a2a2a" stroke-width="1.5" stroke-linecap="square" fill="none"/>
<path d="M616,25 616,67 616,67 616,67.5 615.9,68 615.8,68.5 615.7,68.9 615.6,69.3 615.4,69.7 615.1,70.1 614.9,70.4 614.6,70.7 614.2,71 613.8,71.3 613.4,71.5 613,71.7 612.5,71.9 612,72 575,85 545,90 505,90 480,85 455,77.9 434,69.5 433.6,69.4 433.3,69.2 432.9,69 432.6,68.7 432.3,68.4 432.1,68.1 431.9,67.8 431.7,67.4 431.5,67 431.3,66.6 431.2,66.2 431.1,65.7 431.1,65.1 431,64.6 431,64 431,25" fill="none" stroke="#333" stroke-width="1.3" stroke-dasharray="0 3.2" stroke-linecap="round"/>
<path d="M429,197 429,160 429,160 429,159.5 429.1,159 429.2,158.5 429.3,158.1 429.4,157.7 429.6,157.3 429.9,156.9 430.1,156.6 430.4,156.3 430.8,156 431.2,155.7 431.6,155.5 432,155.3 432.5,155.1 433,155 470,147 507,141 537,141 570,143 600,151 611,156 611,156 611.5,156.3 612,156.6 612.4,156.9 612.8,157.2 613.2,157.6 613.6,157.9 613.9,158.3 614.1,158.7 614.4,159.1 614.6,159.6 614.7,160 614.8,160.5 614.9,161 615,161.5 615,162 615,197Z" fill="#f4f4d8"/>
<path d="M601.3,169.6h0M541.2,162.9h0M576,153.1h0M588.5,171.2h0M509.6,183.2h0M605.9,190h0M464.3,174.3h0M558.7,190.7h0M551.7,151h0M521.6,168.7h0M522,191.5h0M495.1,155.5h0M480.4,190.1h0M517.7,155.1h0M564.9,146.6h0M451.7,163.7h0M589.4,189.5h0M573.5,175h0M475,169.3h0M445.3,178.8h0M526.8,179h0M498.8,169h0M552,168.4h0M465.3,158.5h0M434,158.5h0M546,182.3h0M447.7,190.6h0M571,163.1h0M457.4,184h0M610.4,179.4h0M477.4,157h0M492.3,182.1h0M574,187h0M510.7,165.7h0M437,193.2h0M434.2,177.1h0M472,182.7h0M537.6,146.5h0M562.1,175.8h0M589.5,157.9h0M467,193h0M530.7,157.2h0M604.3,158.4h0M504.2,145.1h0M498.3,192.3h0M535.2,186.9h0M599,180.9h0M486.4,169.9h0M525.7,145.4h0M558.7,159.6h0M545.9,193.5h0M537.5,174.7h0M440.9,167.7h0M485.6,149.2h0" stroke="#2a2a2a" stroke-width="1.5" stroke-linecap="square" fill="none"/>
<path d="M429,197 429,160 429,160 429,159.5 429.1,159 429.2,158.5 429.3,158.1 429.4,157.7 429.6,157.3 429.9,156.9 430.1,156.6 430.4,156.3 430.8,156 431.2,155.7 431.6,155.5 432,155.3 432.5,155.1 433,155 470,147 507,141 537,141 570,143 600,151 611,156 611,156 611.5,156.3 612,156.6 612.4,156.9 612.8,157.2 613.2,157.6 613.6,157.9 613.9,158.3 614.1,158.7 614.4,159.1 614.6,159.6 614.7,160 614.8,160.5 614.9,161 615,161.5 615,162 615,197" fill="none" stroke="#333" stroke-width="1.3" stroke-dasharray="0 3.2" stroke-linecap="round"/>
<path d="M531,25 530.8,70 531.2,71.5 531.8,73.7 532.6,76.2 533.5,78.7 534.5,81 535.8,83 537.2,85 538.8,86.9 540.5,88.7 542,90.4 543.5,92 544.9,93.5 546.4,95 547.8,96.4 549.3,97.9 550.8,99.4 552.4,100.8 553.9,102.2 555.4,103.7 556.8,105.3 558.2,107.1 559.5,109 560.8,110.9 561.8,112.8 562.4,114.6 562.6,116.2 562.4,117.7 562,119.1 561.4,120.5 560.5,122 559.4,123.5 558,125.1 556.4,126.6 554.7,128.1 553,129.5 551.3,130.8 549.4,131.9 547.6,133 545.7,134 543.8,135 541.8,135.8 539.8,136.5 537.8,137.1 536,137.8 534.5,138.8 533.5,139.9 532.8,141.1 532.4,142.5 532,144.1 531.5,146 530.9,148.6 530.2,151.8 529.5,155.1 528.9,158 528.5,160 527.5,200 516,200 516,160 516.1,158 516.2,155.1 516.3,151.8 516.1,148.6 515.5,146 514.4,144.1 512.8,142.5 511,141.1 509.1,139.9 507.5,138.8 506.1,137.8 504.8,137.1 503.6,136.5 502.3,135.8 501,135 499.6,134 498.1,133 496.6,131.9 495.1,130.8 493.6,129.5 492,128.1 490.3,126.6 488.6,125.1 487.1,123.5 486,122 485.2,120.5 484.6,119.1 484.3,117.7 484.2,116.2 484.3,114.6 484.6,112.8 485.2,110.9 486,109 486.9,107.1 488,105.3 489.2,103.7 490.6,102.2 492.1,100.8 493.7,99.4 495.4,97.9 497.2,96.4 499.1,95 501,93.5 502.9,92 504.7,90.4 506.3,88.8 507.9,87.3 509.4,85.7 510.7,83.9 512,82 513.2,79.6 514.3,76.9 515.3,74.1 516.2,71.7 516.8,70 517,25Z" fill="#e7b9a1"/>
<path d="M531,25 530.8,70 531.2,71.5 531.8,73.7 532.6,76.2 533.5,78.7 534.5,81 535.8,83 537.2,85 538.8,86.9 540.5,88.7 542,90.4 543.5,92 544.9,93.5 546.4,95 547.8,96.4 549.3,97.9 550.8,99.4 552.4,100.8 553.9,102.2 555.4,103.7 556.8,105.3 558.2,107.1 559.5,109 560.8,110.9 561.8,112.8 562.4,114.6 562.6,116.2 562.4,117.7 562,119.1 561.4,120.5 560.5,122 559.4,123.5 558,125.1 556.4,126.6 554.7,128.1 553,129.5 551.3,130.8 549.4,131.9 547.6,133 545.7,134 543.8,135 541.8,135.8 539.8,136.5 537.8,137.1 536,137.8 534.5,138.8 533.5,139.9 532.8,141.1 532.4,142.5 532,144.1 531.5,146 530.9,148.6 530.2,151.8 529.5,155.1 528.9,158 528.5,160 527.5,200M516,200 516,160 516.1,158 516.2,155.1 516.3,151.8 516.1,148.6 515.5,146 514.4,144.1 512.8,142.5 511,141.1 509.1,139.9 507.5,138.8 506.1,137.8 504.8,137.1 503.6,136.5 502.3,135.8 501,135 499.6,134 498.1,133 496.6,131.9 495.1,130.8 493.6,129.5 492,128.1 490.3,126.6 488.6,125.1 487.1,123.5 486,122 485.2,120.5 484.6,119.1 484.3,117.7 484.2,116.2 484.3,114.6 484.6,112.8 485.2,110.9 486,109 486.9,107.1 488,105.3 489.2,103.7 490.6,102.2 492.1,100.8 493.7,99.4 495.4,97.9 497.2,96.4 499.1,95 501,93.5 502.9,92 504.7,90.4 506.3,88.8 507.9,87.3 509.4,85.7 510.7,83.9 512,82 513.2,79.6 514.3,76.9 515.3,74.1 516.2,71.7 516.8,70 517,25" fill="none" stroke="#3a2313" stroke-width="1.3" stroke-linejoin="round"/>
<path d="M526.6,28l1.3,6.8M522.4,31.3l-0.2,6M522.9,34.1l-0.1,8M520.7,38.1l-0.9,5.8M525.9,43l0,4.8M522.6,45.9l0,5.8M521.2,48.7l-0.3,7.8M519.5,52.2l0.8,6.3M526.8,54.8l0.3,5M526.7,58l0.4,6.2M521.4,62.9l-0.4,7.2M521,66.5l-0.2,7.8M520.1,70.2l0,6.4M523.8,74.6l0.9,8.6M520.8,77.7l0.1,8.1M524.5,148l0,5.3M518.8,150.8l-0.3,7.4M525.1,155.7l0.2,7.8M523.8,159.9l-0.2,5.5M524.3,164.3l0.5,4.2M524.7,167.6l0.7,6.8M521.8,171.4l0.1,6.3M524.4,176.1l-0.4,8.7M520.5,178.7l-1.1,5.5M524.5,183.6l-0.6,6.2M519.9,187.1l0.6,5.9M521.5,192.1l-0.6,4.3M520.7,195.7l-1.3,4.5" stroke="#3a2313" stroke-width="1.4" stroke-linecap="round" fill="none" opacity="0.8"/>
<ellipse cx="519.5" cy="76" rx="1.6" ry="4" fill="none" stroke="#3a2313" stroke-width="1.1"/>
<ellipse cx="522" cy="145" rx="1.6" ry="3.5" fill="none" stroke="#3a2313" stroke-width="1.1"/>
<path d="M509,110h4M513,116h4M519,112h4M524,106h3M516,103h3M537,95h4M541,101h4M544,130h4M498,130h3M553,112h3M538,116h3M510,131h3" stroke="#3a2313" stroke-width="1" fill="none"/>
<path d="M495.6,99.5 499.4,108.4 503.1,117.9 503.3,118.2 503.5,118.5 503.7,118.8 503.9,119.1 509.3,124.6 509.6,124.9 509.9,125.1 510.2,125.3 510.5,125.4 510.9,125.6 511.2,125.7 520.7,127.7 521.1,127.7 521.4,127.7 521.8,127.7 522.1,127.7 522.5,127.6 530,125.6 530.3,125.5 530.6,125.4 530.9,125.2 531.2,125 531.5,124.8 531.8,124.5 532,124.2 532.2,124 532.4,123.6 536,116.2 536.1,115.9 536.2,115.6 536.3,115.3 536.3,114.9 536.4,114.6 536.4,105 536.3,104.6 536.3,104.2 536.2,103.8 536,103.5 532.4,95.5 532.2,95.1 532,94.8 531.8,94.5 531.5,94.2 531.3,94 530.9,93.8 530.6,93.6 530.3,93.5 519.1,89.5 518.7,89.4 518.4,89.3 518.1,89.3 517.7,89.3 517.4,89.3 508.1,90.3 507.7,90.3 507.4,90.4 507,90.5 497.5,94.5 497.2,94.7 496.9,94.9 496.6,95.1 496.3,95.4 496.1,95.6 495.9,95.9 495.7,96.3 495.5,96.6 495.4,97 495.3,97.3 495.3,97.7 495.3,98.1 495.3,98.4 495.3,98.8 495.4,99.1 495.6,99.5ZM503.9,100 509.4,97.7 517.3,96.8 526.2,100 528.9,105.8 528.9,113.7 526.4,118.8 521.4,120.1 513.9,118.6 509.8,114.4 506.4,105.6 506.3,105.5 503.9,100Z" fill="#ebc3ad" fill-rule="evenodd" stroke="#3a2313" stroke-width="1.3"/>
<path d="M528.9,108.5L536.4,109M528.1,115.4L535.9,116.3M530.5,125.4L526.4,118.7M534.9,101.1L527.9,103.6M530,93.4L526.2,100M508.1,110.1L502.6,116.5M506.4,105.8L498.9,107.2M503.2,98.7L504.8,99.6M500.8,93.2L503.2,98.7M510.6,97.5L507.7,90.3M503.2,98.7L497.2,103.3M520.4,119.9L522.1,127.7M515.8,119L513.1,126.1M504.8,120L512.8,117.5M523.3,91L519.4,97.6M515.6,97L514.8,89.6" fill="none" stroke="#3a2313" stroke-width="1.3" stroke-linecap="round" stroke-linejoin="round"/>
<path d="M545.3,108.7 546,114.8 544.6,120.3 539.7,125.3 539.5,125.6 539.3,125.8 539.1,126.1 539,126.4 538.9,126.7 538.8,127 538.8,127.3 538.8,127.6 538.8,127.9 538.8,128.3 538.9,128.6 539,128.9 539.1,129.2 539.3,129.4 539.5,129.7 539.7,129.9 540,130.1 540.2,130.3 540.5,130.5 540.8,130.6 541.1,130.7 541.4,130.8 541.7,130.8 542,130.8 542.3,130.8 542.7,130.8 543,130.7 543.3,130.6 543.6,130.5 543.8,130.3 544.1,130.1 544.3,129.9 549.8,124.3 550,124 550.2,123.7 550.4,123.4 550.5,123.1 550.6,122.8 552.4,115.8 552.5,115.5 552.5,115.2 552.5,114.9 552.5,114.6 551.7,107.6 551.7,107.3 551.6,106.9 549.1,99.9 548.9,99.6 548.8,99.3 548.6,99.1 548.4,98.8 548.2,98.6 547.9,98.4 547.7,98.2 547.4,98.1 547.1,97.9 546.8,97.8 546.5,97.8 546.2,97.8 545.8,97.8 545.5,97.8 545.2,97.8 544.9,97.9 544.6,98.1 544.3,98.2 544.1,98.4 543.8,98.6 543.6,98.8 543.4,99.1 543.2,99.3 543.1,99.6 542.9,99.9 542.8,100.2 542.8,100.5 542.8,100.8 542.8,101.2 542.8,101.5 542.8,101.8 542.9,102.1 545.3,108.7Z" fill="#ebc3ad" fill-rule="evenodd" stroke="#3a2313" stroke-width="1.3"/>
<path d="M544.3,106L551,105.3M552,110.4L545.8,112.9M547.2,127L541.8,123.2M551.5,119.5L545.4,117.1" fill="none" stroke="#3a2313" stroke-width="1.3" stroke-linecap="round" stroke-linejoin="round"/>
<path d="M489.3,124.9 489.5,125.1 489.6,125.3 489.9,125.5 490.1,125.7 490.3,125.9 494.6,128.4 494.9,128.5 495.1,128.6 495.4,128.7 495.6,128.7 495.9,128.7 496.2,128.7 496.4,128.7 496.7,128.7 497,128.6 497.2,128.5 497.4,128.3 497.7,128.2 497.9,128 498.1,127.8 498.2,127.6 498.4,127.4 498.5,127.1 498.6,126.9 498.7,126.6 498.7,126.4 498.7,126.1 498.7,125.8 498.7,125.6 498.7,125.3 498.6,125 498.5,124.8 498.3,124.6 498.2,124.3 498,124.1 497.8,123.9 497.6,123.8 497.4,123.6 493.7,121.5 490.4,115.6 490.2,115.4 490.1,115.2 489.9,115 489.7,114.8 489.5,114.7 489.2,114.5 489,114.4 488.7,114.3 488.5,114.3 488.2,114.3 487.9,114.3 487.7,114.3 487.4,114.3 487.1,114.4 486.9,114.5 486.6,114.6 486.4,114.8 486.2,114.9 486,115.1 485.8,115.3 485.7,115.5 485.5,115.8 485.4,116 485.3,116.3 485.3,116.5 485.3,116.8 485.3,117.1 485.3,117.3 485.3,117.6 485.4,117.9 485.5,118.1 485.6,118.4 489.3,124.9Z" fill="#ebc3ad" fill-rule="evenodd" stroke="#3a2313" stroke-width="1.3"/>
<path d="M494.2,121.8L492.2,127M486.5,120L491.4,117.4" fill="none" stroke="#3a2313" stroke-width="1.3" stroke-linecap="round" stroke-linejoin="round"/>
<path d="M523.6,134.7 523.7,135 523.8,135.3 523.9,135.5 524.1,135.8 524.3,136 524.5,136.2 524.7,136.4 525,136.6 525.2,136.7 525.5,136.8 525.8,136.9 526.1,137 526.4,137 526.6,137 526.9,137 527.2,136.9 527.5,136.8 527.8,136.7 528,136.6 528.3,136.4 528.5,136.2 528.7,136 528.9,135.8 529.1,135.5 529.2,135.3 529.3,135 529.4,134.7 529.5,134.4 529.5,134.1 529.5,133.9 529.5,133.6 529.4,133.3 527.9,127.3 527.8,127 527.7,126.7 527.6,126.5 527.4,126.2 527.2,126 527,125.8 526.8,125.6 526.5,125.4 526.3,125.3 526,125.2 525.7,125.1 525.4,125 525.1,125 524.9,125 524.6,125 524.3,125.1 524,125.2 523.7,125.3 523.5,125.4 523.2,125.6 523,125.8 522.8,126 522.6,126.2 522.4,126.5 522.3,126.7 522.2,127 522.1,127.3 522,127.6 522,127.9 522,128.1 522,128.4 522.1,128.7 523.6,134.7Z" fill="#ebc3ad" fill-rule="evenodd" stroke="#3a2313" stroke-width="1.3"/>
<path d="M522.9,131.9L528.6,129.9M522.3,129.5L528.1,128" fill="none" stroke="#3a2313" stroke-width="1.3" stroke-linecap="round" stroke-linejoin="round"/>
<rect x="425" y="195" width="195" height="4.5" fill="url(#fadeB)"/>
<circle cx="401.6" cy="23" r="8.6" fill="#fff" stroke="#4a4a4a" stroke-width="1"/>
<text x="401.6" y="26.5" font-family="Liberation Sans" font-weight="bold" font-size="12" text-anchor="middle" textLength="6.8" lengthAdjust="spacingAndGlyphs" fill="#111">B</text>
<text x="338.3" y="56.2" font-family="Liberation Sans" font-size="12" textLength="14" lengthAdjust="spacingAndGlyphs" text-anchor="start" fill="#1c1c1c">CR</text>
<path d="M356,53H474.5" stroke="#3a3a3a" stroke-width="1.3"/>
<path d="M474.5,53L505.5,91.5" stroke="#3a3a3a" stroke-width="1.25" fill="none"/>
<text x="338.6" y="97.2" font-family="Liberation Sans" font-size="12" textLength="13.4" lengthAdjust="spacingAndGlyphs" text-anchor="start" fill="#1c1c1c">EC</text>
<path d="M356,94H472" stroke="#3a3a3a" stroke-width="1.3"/>
<text x="339.2" y="140.4" font-family="Liberation Sans" font-size="12" textLength="12.6" lengthAdjust="spacingAndGlyphs" text-anchor="start" fill="#1c1c1c">AF</text>
<path d="M356,137.2H434" stroke="#3a3a3a" stroke-width="1.3"/>
<path d="M92,282 94.9,284.2 98.1,286.5 101.5,288.8 105,291.1 108.8,293.3 112.9,295.5 117.2,297.7 121.7,299.8 126.5,301.8 131.6,303.7 136.9,305.5 142.5,307.1 148.4,308.5 154.5,309.8 161,310.9 167.8,311.8 174.9,312.5 182.3,312.9 190,313 197,312.9 203.9,312.6 210.6,312 217.1,311.3 223.4,310.3 229.6,309.3 235.6,308 241.4,306.6 247,305.1 252.5,303.4 257.7,301.6 262.8,299.8 267.7,297.8 272.4,295.8 276.9,293.7 281.2,291.6 285.3,289.4 289.3,287.2 293,285 92,282 87.5,286.9 83.5,292.1 80,297.5 77,303.2 74.5,309.1 72.4,315.1 70.8,321.3 69.7,327.5 69,333.8 68.8,340.2 69.1,346.5 69.8,352.7 71,358.9 72.5,364.9 74.6,370.8 77,376.5 79.9,381.9 83.3,387.1 87,392 90.8,390.2 94.8,388.4 99.1,386.8 103.6,385.2 108.4,383.8 113.3,382.4 118.5,381.2 123.8,380 129.3,379 135,378 140.7,377.2 146.6,376.4 152.6,375.8 158.7,375.2 164.9,374.8 171.1,374.4 177.4,374.2 183.7,374 190,374 196.3,374.1 202.5,374.2 208.6,374.5 214.6,374.9 220.5,375.5 226.4,376.1 232.1,376.9 237.8,377.7 243.4,378.7 248.9,379.8 254.3,381 259.6,382.4 264.8,383.8 269.9,385.4 274.9,387.1 279.8,388.9 284.6,390.8 289.4,392.8 294,395 297.4,389.7 300.4,384.1 303,378.3 305.2,372.3 307.1,366.1 308.6,359.9 309.7,353.6 310.4,347.3 310.7,340.9 310.7,334.6 310.3,328.4 309.5,322.2 308.3,316.2 306.7,310.4 304.7,304.7 302.4,299.4 299.6,294.2 296.5,289.4 293,285Z" fill="url(#gC)"/>
<g clip-path="url(#cC)" fill="none"><path d="M190,227.8 A120.9,111.2 0 0 0 190,450.2" stroke="#4f596b" stroke-width="1.05"/><path d="M190,233.6 A116.4,105.4 0 0 0 190,444.4" stroke="#4f596b" stroke-width="1.05"/><path d="M190,238.8 A112.4,100.2 0 0 0 190,439.2" stroke="#4f596b" stroke-width="1.05"/><path d="M190,244.5 A107.8,94.5 0 0 0 190,433.5" stroke="#4f596b" stroke-width="1.05"/><path d="M190,250.1 A103.2,88.9 0 0 0 190,427.9" stroke="#4f596b" stroke-width="1.05"/><path d="M190,256 A98.2,83 0 0 0 190,422" stroke="#4f596b" stroke-width="1.05"/><path d="M190,261.7 A93.3,77.3 0 0 0 190,416.3" stroke="#596070" stroke-width="1.05" stroke-dasharray="2.8 2.6"/><path d="M190,267.4 A88.2,71.6 0 0 0 190,410.6" stroke="#596070" stroke-width="1.05" stroke-dasharray="2.8 2.6"/><path d="M190,273 A83.1,66 0 0 0 190,405" stroke="#596070" stroke-width="1.05" stroke-dasharray="2.8 2.6"/><path d="M190,279.1 A77.3,59.9 0 0 0 190,398.9" stroke="#4f596b" stroke-width="1.05"/><path d="M190,284.4 A72,54.6 0 0 0 190,393.6" stroke="#596070" stroke-width="1.05" stroke-dasharray="2.8 2.6"/><path d="M190,290.1 A66.2,48.9 0 0 0 190,387.9" stroke="#596070" stroke-width="1.05" stroke-dasharray="2.8 2.6"/><path d="M190,293.9 A62.2,45.1 0 0 0 190,384.1" stroke="#596070" stroke-width="1.05" stroke-dasharray="2.8 2.6"/><path d="M190,297.7 A58,41.3 0 0 0 190,380.3" stroke="#596070" stroke-width="1.05" stroke-dasharray="3 3.5"/><path d="M190,300.9 A54.5,38.1 0 0 0 190,377.1" stroke="#596070" stroke-width="1.05" stroke-dasharray="3 3.5"/><path d="M190,227.8 A120.9,111.2 0 0 1 190,450.2" stroke="#4f596b" stroke-width="1.05"/><path d="M190,233.6 A116.4,105.4 0 0 1 190,444.4" stroke="#4f596b" stroke-width="1.05"/><path d="M190,238.8 A112.4,100.2 0 0 1 190,439.2" stroke="#4f596b" stroke-width="1.05"/><path d="M190,244.5 A107.8,94.5 0 0 1 190,433.5" stroke="#4f596b" stroke-width="1.05"/><path d="M190,250.1 A103.2,88.9 0 0 1 190,427.9" stroke="#4f596b" stroke-width="1.05"/><path d="M190,256 A98.2,83 0 0 1 190,422" stroke="#4f596b" stroke-width="1.05"/><path d="M190,261.7 A93.3,77.3 0 0 1 190,416.3" stroke="#596070" stroke-width="1.05" stroke-dasharray="2.8 2.6"/><path d="M190,267.4 A88.2,71.6 0 0 1 190,410.6" stroke="#596070" stroke-width="1.05" stroke-dasharray="2.8 2.6"/><path d="M190,273 A83.1,66 0 0 1 190,405" stroke="#596070" stroke-width="1.05" stroke-dasharray="2.8 2.6"/><path d="M190,279.1 A77.3,59.9 0 0 1 190,398.9" stroke="#4f596b" stroke-width="1.05"/><path d="M190,284.4 A72,54.6 0 0 1 190,393.6" stroke="#596070" stroke-width="1.05" stroke-dasharray="2.8 2.6"/><path d="M190,290.1 A66.2,48.9 0 0 1 190,387.9" stroke="#596070" stroke-width="1.05" stroke-dasharray="2.8 2.6"/><path d="M190,293.9 A62.2,45.1 0 0 1 190,384.1" stroke="#596070" stroke-width="1.05" stroke-dasharray="2.8 2.6"/><path d="M190,297.7 A58,41.3 0 0 1 190,380.3" stroke="#596070" stroke-width="1.05" stroke-dasharray="3 3.5"/><path d="M190,300.9 A54.5,38.1 0 0 1 190,377.1" stroke="#596070" stroke-width="1.05" stroke-dasharray="3 3.5"/></g>
<path d="M230.6,348.7l-0.6,2.5M219.7,319.9l1.4,2.2M210.4,370.2l-2.2,1.4M179.2,322.9l2.3,-1.2M255.4,352.6l-0.5,2.6M149.1,354.9l-0.8,-2.5M240.9,353.9l-0.7,2.5M151.7,327.6l0.9,-2.4M254.4,333.8l0.2,2.6M184,353.4l-2.2,-1.3M157.6,343.7l-0.1,-2.6M230.4,325.3l0.9,2.4M222.5,342.6l-0.2,2.6M197.9,336.3l1,2.4M210.3,330.3l1.1,2.4M208.6,315.9l2,1.6M169.6,366.3l-2,-1.7M201.1,352.3l-2,1.7M127.1,327.1l0.6,-2.5M175.1,352.2l-1.4,-2.2M159.7,327.2l1.2,-2.3M179.2,331.2l1.9,-1.8M228.1,364.9l-1.4,2.2M230.5,315.7l1.3,2.2M140.4,356.5l-0.7,-2.5M217.9,350.6l-1,2.4M250,358l-0.8,2.5M160.6,362.6l-1.5,-2.2M225.5,334.7l0.4,2.6M217,334.2l0.5,2.5M129.7,360.1l-0.7,-2.5M147.3,341.1l0.1,-2.6M242.7,367.7l-1.2,2.3M219.9,366.3l-1.7,1.9M199.6,317.1l2.4,1.1M214.7,358.6l-1.6,2.1M171.8,332.7l1.2,-2.3M124.7,341.2l0,-2.6M152.1,371.4l-1.6,-2.1M165.3,355.8l-1.2,-2.3M244.1,337.9l0.1,2.6M234,336.6l0.2,2.6M138.9,340.7l0.1,-2.6M207.4,362.1l-2.1,1.6M181.1,368.7l-2.4,-0.9M132.1,336.6l0.3,-2.6M259.7,342.8l-0.1,2.6M166.8,345.3l-0.3,-2.6M247.3,331l0.4,2.6M169.9,318.7l2,-1.7M134.8,320.8l0.9,-2.4M194.9,346.4l-2.2,1.4M185.7,339.3l1.6,-2.1M198.9,361.4l-2.4,0.9M143.5,319.5l1.2,-2.3M222.3,358.9l-1.3,2.2M203.9,343.1l-0.6,2.5M156,317.4l1.5,-2.1M198.4,326.3l2.2,1.5M243.3,320.2l0.9,2.4M159.8,335.2l0.6,-2.5M141.6,330l0.6,-2.5M254.6,323.6l0.6,2.5M214.3,341.6l-0.2,2.6M186.8,320.3l2.6,-0.2M195.6,371.6l-2.6,0.4M190.9,359.1l-2.6,-0.1M176.4,360.9l-2.1,-1.6M243.1,346l-0.3,2.6M122.9,348.5l-0.2,-2.6M236,360.8l-1.1,2.4M142.5,364.8l-1.1,-2.4M209.5,352.7l-1.5,2.2M156.7,355.4l-0.9,-2.4M250.9,342.5l-0.1,2.6M152.1,362.2l-1.2,-2.3M189.3,328.2l2.6,0.1M206.7,323l1.8,1.9M235.3,369.9l-1.5,2.2M240.1,328.5l0.6,2.5M143.8,372.7l-1.4,-2.2M139.9,348.7l-0.3,-2.6M180.3,346.5l-1,-2.4M134.1,368.9l-1.1,-2.4M160.2,372.6l-1.8,-1.8M132.1,345.3l-0.1,-2.6M189.2,367.8l-2.6,-0.2M166.9,326l1.5,-2.1M202.7,368.2l-2.4,1M173.4,341l0.2,-2.6M129.7,352.4l-0.4,-2.6M222.3,327.3l0.9,2.4M229.7,356.5l-1,2.4M152.3,335.4l0.5,-2.6M174,372.5l-2.3,-1.3" stroke="#555" stroke-width="1" fill="none"/>
<path d="M100,245 285,245 285,270 280.3,272.2 275.5,274.2 270.8,276.2 266,278 261.2,279.8 256.4,281.4 251.6,282.9 246.7,284.3 241.8,285.6 236.9,286.8 231.9,287.9 226.9,288.8 221.8,289.7 216.7,290.4 211.5,291 206.2,291.4 200.9,291.7 195.5,291.9 190,292 183.8,291.9 177.7,291.7 171.8,291.3 166.1,290.7 160.5,290 155.2,289.2 150,288.2 144.9,287.1 140.1,285.9 135.4,284.6 131,283.1 126.7,281.5 122.6,279.9 118.7,278.1 114.9,276.3 111.4,274.3 108.1,272.3 104.9,270.2 102,268Z" fill="#f4f4d8"/>
<rect x="99" y="245" width="187" height="4" fill="url(#fadeY)"/>
<path d="M195.4,259.9h0M113.4,263.8h0M176.4,250.3h0M219.7,257.9h0M181.1,287.5h0M173.5,268.2h0M260.1,251.1h0M224.5,283.3h0M229.5,248.5h0M139.9,261.5h0M247.1,261.2h0M130.3,276.4h0M169.2,286.5h0M235.6,275.5h0M143.2,274.1h0M212.7,286.1h0M160.2,264.6h0M267.9,261.6h0M279.5,256h0M184.6,275.2h0M203.9,268.2h0M150.3,250.4h0M224.3,268.6h0M246.2,249.3h0M104.9,250.8h0M209.7,251.9h0M247.4,275.2h0M196.6,278h0M126,262.6h0M153.7,278h0M163.3,253.2h0M126.3,248.9h0M264,272.4h0M184.2,260.7h0M234.3,258.9h0M278.6,268.2h0M198.7,249h0M119.3,273.1h0M164.9,276.2h0M214.1,273.7h0M187.6,250.1h0M271,248.8h0M138.7,248.6h0M192.4,288.4h0" stroke="#2a2a2a" stroke-width="1.5" stroke-linecap="square" fill="none"/>
<path d="M285,245 285,270 280.3,272.2 275.5,274.2 270.8,276.2 266,278 261.2,279.8 256.4,281.4 251.6,282.9 246.7,284.3 241.8,285.6 236.9,286.8 231.9,287.9 226.9,288.8 221.8,289.7 216.7,290.4 211.5,291 206.2,291.4 200.9,291.7 195.5,291.9 190,292 183.8,291.9 177.7,291.7 171.8,291.3 166.1,290.7 160.5,290 155.2,289.2 150,288.2 144.9,287.1 140.1,285.9 135.4,284.6 131,283.1 126.7,281.5 122.6,279.9 118.7,278.1 114.9,276.3 111.4,274.3 108.1,272.3 104.9,270.2 102,268 100,245" fill="none" stroke="#333" stroke-width="1.3" stroke-dasharray="0 3.2" stroke-linecap="round"/>
<path d="M284,404 280.1,402.1 276.1,400.4 271.9,398.7 267.5,397.1 263,395.6 258.3,394.2 253.5,392.9 248.7,391.7 243.7,390.5 238.6,389.5 233.4,388.6 228.1,387.8 222.8,387 217.4,386.4 212,385.9 206.5,385.5 201,385.2 195.5,385.1 190,385 183.8,385.1 177.7,385.3 171.8,385.6 166.1,386 160.5,386.6 155.1,387.3 149.8,388.1 144.7,389 139.8,390 135,391.1 130.4,392.3 125.9,393.6 121.6,395 117.5,396.4 113.5,398 109.6,399.6 105.9,401.3 102.4,403.1 99,405 99,431 284,431 284,404Z" fill="#f4f4d8"/>
<path d="M198.3,401.9h0M168.2,403.1h0M278.3,413.2h0M222.5,401.4h0M111.7,421.7h0M249.7,419.1h0M253.8,405.4h0M214.2,393.3h0M135.7,407.9h0M237.7,409.6h0M176.9,423.1h0M183.3,409.5h0M158,422.9h0M129.3,398.3h0M151.3,406.1h0M231.4,420h0M130.1,425.8h0M184.5,393.4h0M207,426.2h0M123.5,411h0M271.1,402.3h0M164.5,391.8h0M143.1,418h0M262.1,420.1h0M195.5,412.7h0M236.7,397.5h0M153.4,394.6h0M112.7,406.5h0M209.4,415.3h0M168.1,415.9h0M198.8,389h0M211.9,404.5h0M278.6,427.3h0M220.7,423h0M141.7,396.5h0M193.4,426.6h0M241.1,427.2h0M103.5,414.1h0M248.2,395.3h0" stroke="#2a2a2a" stroke-width="1.5" stroke-linecap="square" fill="none"/>
<path d="M284,404 280.1,402.1 276.1,400.4 271.9,398.7 267.5,397.1 263,395.6 258.3,394.2 253.5,392.9 248.7,391.7 243.7,390.5 238.6,389.5 233.4,388.6 228.1,387.8 222.8,387 217.4,386.4 212,385.9 206.5,385.5 201,385.2 195.5,385.1 190,385 183.8,385.1 177.7,385.3 171.8,385.6 166.1,386 160.5,386.6 155.1,387.3 149.8,388.1 144.7,389 139.8,390 135,391.1 130.4,392.3 125.9,393.6 121.6,395 117.5,396.4 113.5,398 109.6,399.6 105.9,401.3 102.4,403.1 99,405 99,431 284,431 284,404Z" fill="none" stroke="#333" stroke-width="1.3" stroke-dasharray="0 3.2" stroke-linecap="round"/>
<path d="M101,268.5 102,268 104.9,270.2 108.1,272.3 111.4,274.3 114.9,276.3 118.7,278.1 122.6,279.9 126.7,281.5 131,283.1 135.4,284.6 140.1,285.9 144.9,287.1 150,288.2 155.2,289.2 160.5,290 166.1,290.7 171.8,291.3 177.7,291.7 183.8,291.9 190,292 195.5,291.9 200.9,291.7 206.2,291.4 211.5,291 216.7,290.4 221.8,289.7 226.9,288.8 231.9,287.9 236.9,286.8 241.8,285.6 246.7,284.3 251.6,282.9 256.4,281.4 261.2,279.8 266,278 270.8,276.2 275.5,274.2 280.3,272.2 285,270 287,270 288.1,270.3 289.2,270.7 290.1,271.2 290.9,271.8 291.7,272.6 292.3,273.4 292.8,274.3 293.2,275.3 293.5,276.4 293.7,277.6 293.7,278.8 293.7,280.2 293.6,281.7 293.3,283.3 293,285 289.3,287.2 285.3,289.4 281.2,291.6 276.9,293.7 272.4,295.8 267.7,297.8 262.8,299.8 257.7,301.6 252.5,303.4 247,305.1 241.4,306.6 235.6,308 229.6,309.3 223.4,310.3 217.1,311.3 210.6,312 203.9,312.6 197,312.9 190,313 182.3,312.9 174.9,312.5 167.8,311.8 161,310.9 154.5,309.8 148.4,308.5 142.5,307.1 136.9,305.5 131.6,303.7 126.5,301.8 121.7,299.8 117.2,297.7 112.9,295.5 108.8,293.3 105,291.1 101.5,288.8 98.1,286.5 94.9,284.2 92,282 91.6,281.6 91.3,281.2 91.1,280.8 91,280.3 90.9,279.9 90.9,279.4 90.9,279 91.1,278.5 91.3,278 91.6,277.6 91.9,277.1 92.3,276.6 92.8,276 93.4,275.5 94,275 101,268.5Z" fill="#dde5f2"/>
<path d="M101,268.5 102,268 104.9,270.2 108.1,272.3 111.4,274.3 114.9,276.3 118.7,278.1 122.6,279.9 126.7,281.5 131,283.1 135.4,284.6 140.1,285.9 144.9,287.1 150,288.2 155.2,289.2 160.5,290 166.1,290.7 171.8,291.3 177.7,291.7 183.8,291.9 190,292 195.5,291.9 200.9,291.7 206.2,291.4 211.5,291 216.7,290.4 221.8,289.7 226.9,288.8 231.9,287.9 236.9,286.8 241.8,285.6 246.7,284.3 251.6,282.9 256.4,281.4 261.2,279.8 266,278 270.8,276.2 275.5,274.2 280.3,272.2 285,270 287,270 288.1,270.3 289.2,270.7 290.1,271.2 290.9,271.8 291.7,272.6 292.3,273.4 292.8,274.3 293.2,275.3 293.5,276.4 293.7,277.6 293.7,278.8 293.7,280.2 293.6,281.7 293.3,283.3 293,285 289.3,287.2 285.3,289.4 281.2,291.6 276.9,293.7 272.4,295.8 267.7,297.8 262.8,299.8 257.7,301.6 252.5,303.4 247,305.1 241.4,306.6 235.6,308 229.6,309.3 223.4,310.3 217.1,311.3 210.6,312 203.9,312.6 197,312.9 190,313 182.3,312.9 174.9,312.5 167.8,311.8 161,310.9 154.5,309.8 148.4,308.5 142.5,307.1 136.9,305.5 131.6,303.7 126.5,301.8 121.7,299.8 117.2,297.7 112.9,295.5 108.8,293.3 105,291.1 101.5,288.8 98.1,286.5 94.9,284.2 92,282 91.6,281.6 91.3,281.2 91.1,280.8 91,280.3 90.9,279.9 90.9,279.4 90.9,279 91.1,278.5 91.3,278 91.6,277.6 91.9,277.1 92.3,276.6 92.8,276 93.4,275.5 94,275 101,268.5Z" fill="none" stroke="#3a3a3a" stroke-width="1.2" stroke-dasharray="0 2.8" stroke-linecap="round"/>
<path d="M87,392 90.8,390.2 94.8,388.4 99.1,386.8 103.6,385.2 108.4,383.8 113.3,382.4 118.5,381.2 123.8,380 129.3,379 135,378 140.7,377.2 146.6,376.4 152.6,375.8 158.7,375.2 164.9,374.8 171.1,374.4 177.4,374.2 183.7,374 190,374 196.3,374.1 202.5,374.2 208.6,374.5 214.6,374.9 220.5,375.5 226.4,376.1 232.1,376.9 237.8,377.7 243.4,378.7 248.9,379.8 254.3,381 259.6,382.4 264.8,383.8 269.9,385.4 274.9,387.1 279.8,388.9 284.6,390.8 289.4,392.8 294,395 294.6,395.8 295,396.5 295.2,397.3 295.2,398 295.1,398.7 294.8,399.3 294.3,399.9 293.6,400.5 292.8,401.1 291.8,401.7 290.6,402.2 289.2,402.7 287.6,403.1 285.9,403.6 284,404 280.1,402.1 276.1,400.4 271.9,398.7 267.5,397.1 263,395.6 258.3,394.2 253.5,392.9 248.7,391.7 243.7,390.5 238.6,389.5 233.4,388.6 228.1,387.8 222.8,387 217.4,386.4 212,385.9 206.5,385.5 201,385.2 195.5,385.1 190,385 183.8,385.1 177.7,385.3 171.8,385.6 166.1,386 160.5,386.6 155.1,387.3 149.8,388.1 144.7,389 139.8,390 135,391.1 130.4,392.3 125.9,393.6 121.6,395 117.5,396.4 113.5,398 109.6,399.6 105.9,401.3 102.4,403.1 99,405 97.1,404.3 95.3,403.6 93.7,402.9 92.3,402.1 91,401.3 89.9,400.5 88.9,399.7 88.1,398.8 87.5,397.9 87,397 86.7,396.1 86.5,395.1 86.5,394.1 86.7,393.1 87,392Z" fill="#dde5f2"/>
<path d="M87,392 90.8,390.2 94.8,388.4 99.1,386.8 103.6,385.2 108.4,383.8 113.3,382.4 118.5,381.2 123.8,380 129.3,379 135,378 140.7,377.2 146.6,376.4 152.6,375.8 158.7,375.2 164.9,374.8 171.1,374.4 177.4,374.2 183.7,374 190,374 196.3,374.1 202.5,374.2 208.6,374.5 214.6,374.9 220.5,375.5 226.4,376.1 232.1,376.9 237.8,377.7 243.4,378.7 248.9,379.8 254.3,381 259.6,382.4 264.8,383.8 269.9,385.4 274.9,387.1 279.8,388.9 284.6,390.8 289.4,392.8 294,395 294.6,395.8 295,396.5 295.2,397.3 295.2,398 295.1,398.7 294.8,399.3 294.3,399.9 293.6,400.5 292.8,401.1 291.8,401.7 290.6,402.2 289.2,402.7 287.6,403.1 285.9,403.6 284,404 280.1,402.1 276.1,400.4 271.9,398.7 267.5,397.1 263,395.6 258.3,394.2 253.5,392.9 248.7,391.7 243.7,390.5 238.6,389.5 233.4,388.6 228.1,387.8 222.8,387 217.4,386.4 212,385.9 206.5,385.5 201,385.2 195.5,385.1 190,385 183.8,385.1 177.7,385.3 171.8,385.6 166.1,386 160.5,386.6 155.1,387.3 149.8,388.1 144.7,389 139.8,390 135,391.1 130.4,392.3 125.9,393.6 121.6,395 117.5,396.4 113.5,398 109.6,399.6 105.9,401.3 102.4,403.1 99,405 97.1,404.3 95.3,403.6 93.7,402.9 92.3,402.1 91,401.3 89.9,400.5 88.9,399.7 88.1,398.8 87.5,397.9 87,397 86.7,396.1 86.5,395.1 86.5,394.1 86.7,393.1 87,392Z" fill="none" stroke="#3a3a3a" stroke-width="1.2" stroke-dasharray="0 2.8" stroke-linecap="round"/>
<path d="M100.5,258c4,0 8,1.5 8,4c0,2.5 -4,3.5 -7.5,3.5M273.5,274.4c3,-2 7,-4.5 11.5,-5.5M98,408c4,0 9,0.5 9,2.5c0,2 -5,2.5 -9,2.5M271.5,405c4,0 8,3 10.8,7v4" stroke="#2a2a2a" stroke-width="1.5" fill="none"/>
<rect x="95" y="419" width="195" height="11" fill="url(#fadeB2)"/>
<path d="M165,251 Q194,261 223,250" stroke="#33251a" stroke-width="4.2" stroke-dasharray="3.6 1.3" fill="none"/>
<path d="M164,253 Q194,264 224,252" stroke="#33251a" stroke-width="1.3" fill="none"/>
<path d="M163,249.5 q2,-1.5 4,0M220,249 q2,-2 4,-1" stroke="#33251a" stroke-width="1.5" fill="none"/>
<path d="M157,428 Q189,407 224,428" stroke="#33251a" stroke-width="8" stroke-dasharray="3.4 1.4" fill="none"/>
<path d="M154,425.5 Q189,404 227,425.5" stroke="#33251a" stroke-width="1.4" fill="none"/>
<path d="M195.5,279.4 195.5,280.8 195.6,282.7 195.6,284.9 195.7,287.4 195.8,289.8 196,292 196.2,294.1 196.5,296.2 196.8,298.2 197.2,300.3 197.8,302.2 198.6,304 199.7,305.7 201,307.3 202.5,308.8 204.1,310.2 205.9,311.5 207.8,312.8 210,313.9 212.5,314.9 215.1,315.8 217.7,316.7 220.2,317.6 222.3,318.6 224.1,319.7 225.7,320.8 227.2,321.9 228.5,323.2 229.8,324.5 231,326 232.2,327.7 233.5,329.5 234.7,331.4 235.7,333.5 236.5,335.5 236.9,337.6 237,339.7 236.9,341.9 236.6,344.2 235.9,346.4 235.1,348.6 234,350.7 232.6,352.8 230.7,354.9 228.7,357 226.5,358.9 224.3,360.7 222.3,362.3 220.4,363.6 218.5,364.7 216.7,365.6 214.8,366.4 212.8,367.2 210.7,368 208.3,368.8 205.6,369.4 202.8,370 200.1,370.7 197.8,371.4 196,372.3 194.8,373.3 194.2,374.3 193.8,375.4 193.7,376.6 193.6,378.1 193.4,379.8 193.1,382.1 192.9,384.9 192.8,387.9 192.7,390.8 192.6,393.3 192.5,395 186.5,395 186.4,393.3 186.3,390.8 186.2,387.9 186,384.8 185.8,382.1 185.5,379.8 185.3,378.1 185.3,376.7 185.2,375.5 184.9,374.4 184.2,373.5 183,372.5 181,371.6 178.5,370.8 175.5,370.1 172.4,369.5 169.5,368.8 167,368 165,367.2 163.2,366.4 161.6,365.6 160.1,364.7 158.5,363.6 156.8,362.3 154.8,360.7 152.7,358.9 150.5,357 148.5,354.9 146.6,352.8 145.2,350.7 144.1,348.6 143.3,346.4 142.7,344.1 142.3,341.9 142.2,339.7 142.3,337.6 142.7,335.5 143.4,333.5 144.4,331.4 145.6,329.5 146.8,327.7 148,326 149.2,324.5 150.4,323.2 151.7,321.9 153.1,320.8 154.8,319.7 156.8,318.6 159.3,317.6 162.2,316.7 165.4,315.8 168.6,314.9 171.6,313.9 174.3,312.8 176.7,311.5 179,310.2 181.2,308.8 183.1,307.3 184.7,305.7 186,304 186.8,302.2 187.1,300.3 187.2,298.2 187.1,296.2 187,294.1 187,292 187.2,289.8 187.3,287.4 187.5,284.9 187.6,282.7 187.7,280.8 187.8,279.4Z" fill="#e9c1aa"/>
<path d="M195.5,279.4 195.5,280.8 195.6,282.7 195.6,284.9 195.7,287.4 195.8,289.8 196,292 196.2,294.1 196.5,296.2 196.8,298.2 197.2,300.3 197.8,302.2 198.6,304 199.7,305.7 201,307.3 202.5,308.8 204.1,310.2 205.9,311.5 207.8,312.8 210,313.9 212.5,314.9 215.1,315.8 217.7,316.7 220.2,317.6 222.3,318.6 224.1,319.7 225.7,320.8 227.2,321.9 228.5,323.2 229.8,324.5 231,326 232.2,327.7 233.5,329.5 234.7,331.4 235.7,333.5 236.5,335.5 236.9,337.6 237,339.7 236.9,341.9 236.6,344.2 235.9,346.4 235.1,348.6 234,350.7 232.6,352.8 230.7,354.9 228.7,357 226.5,358.9 224.3,360.7 222.3,362.3 220.4,363.6 218.5,364.7 216.7,365.6 214.8,366.4 212.8,367.2 210.7,368 208.3,368.8 205.6,369.4 202.8,370 200.1,370.7 197.8,371.4 196,372.3 194.8,373.3 194.2,374.3 193.8,375.4 193.7,376.6 193.6,378.1 193.4,379.8 193.1,382.1 192.9,384.9 192.8,387.9 192.7,390.8 192.6,393.3 192.5,395M186.5,395 186.4,393.3 186.3,390.8 186.2,387.9 186,384.8 185.8,382.1 185.5,379.8 185.3,378.1 185.3,376.7 185.2,375.5 184.9,374.4 184.2,373.5 183,372.5 181,371.6 178.5,370.8 175.5,370.1 172.4,369.5 169.5,368.8 167,368 165,367.2 163.2,366.4 161.6,365.6 160.1,364.7 158.5,363.6 156.8,362.3 154.8,360.7 152.7,358.9 150.5,357 148.5,354.9 146.6,352.8 145.2,350.7 144.1,348.6 143.3,346.4 142.7,344.1 142.3,341.9 142.2,339.7 142.3,337.6 142.7,335.5 143.4,333.5 144.4,331.4 145.6,329.5 146.8,327.7 148,326 149.2,324.5 150.4,323.2 151.7,321.9 153.1,320.8 154.8,319.7 156.8,318.6 159.3,317.6 162.2,316.7 165.4,315.8 168.6,314.9 171.6,313.9 174.3,312.8 176.7,311.5 179,310.2 181.2,308.8 183.1,307.3 184.7,305.7 186,304 186.8,302.2 187.1,300.3 187.2,298.2 187.1,296.2 187,294.1 187,292 187.2,289.8 187.3,287.4 187.5,284.9 187.6,282.7 187.7,280.8 187.8,279.4" fill="none" stroke="#3a2313" stroke-width="1.4" stroke-linejoin="round"/>
<path d="M189.5,282v8M193,286v10M189.5,294l-1,8M193,300v7M186,310l-3,6M196,309l3,5M191,305v6M187,378l1,8M190.5,376v12M193.5,380l-0.5,9M185,373l2,4M196,372l-2,5" stroke="#3a2313" stroke-width="1.2" fill="none"/>
<path d="M203.5,341.9h3M203.9,317.3h3M206.3,327h3M181.4,320.9h3M169,332.2h3M223.4,344.5h3M200.1,348.9h3M195,323.1h3M219.6,353.8h3M172.4,317.3h3M183.5,350.8h3M208.9,353.3h3M165.7,350.3h3M146.5,339.2h3M199.5,364.3h3M181,363.5h3M185.8,329.9h3M171.3,344.7h3M148.8,350.7h3M163.4,343h3M169.4,358.1h3M156.6,337.1h3M223.2,330.2h3M192.5,351.1h3M163.3,319.2h3M229,350.1h3M178.6,338.3h3M186,341.7h3M191.1,363h3M156.1,345.8h3M215.4,335.5h3M198.7,332.8h3M149.2,331.9h3M192.6,315h3M211.5,318.5h3M162.8,363.1h3M217.2,324.9h3M174.3,325.9h3M206.7,360.8h3M175.2,351.2h3M157.4,356.7h3M157.2,327.5h3M230.8,337.3h3M185.7,370h3M214.1,344.1h3M194.4,342h3M214.4,361.1h3M197.9,356.5h3M170.9,365.5h3M206.8,335.1h3" stroke="#3a2313" stroke-width="1" fill="none"/>
<path d="M174.2,339.8 173.5,341.7 172.4,343.5 171.2,345 169.9,346.2 168.5,346.9 167,347.2 165.7,347.1 164.5,346.5 163.5,345.4 162.7,344 162.3,342.3 162.1,340.3 162.3,338.3 162.8,336.2 163.5,334.3 164.6,332.5 165.8,331 167.1,329.8 168.5,329.1 170,328.8 171.3,328.9 172.5,329.5 173.5,330.6 174.3,332 174.7,333.7 174.9,335.7 174.7,337.7 174.2,339.8Z" fill="#ecc8b4" stroke="#3a2313" stroke-width="1.3"/>
<path d="M170.9,328.9L168.7,334.8M168.7,334.8L174.4,339.1M163,335.6L168.7,334.8M162.2,339.8L171.6,344.6" fill="none" stroke="#3a2313" stroke-width="1.2" stroke-linecap="round" stroke-linejoin="round"/>
<path d="M222.5,339.5 222.3,341.2 221.7,342.8 220.8,344.2 219.5,345.4 218,346.3 216.3,346.8 214.5,347 212.7,346.8 211,346.3 209.5,345.4 208.2,344.2 207.3,342.8 206.7,341.2 206.5,339.5 206.7,337.8 207.3,336.2 208.2,334.8 209.5,333.6 211,332.7 212.7,332.2 214.5,332 216.3,332.2 218,332.7 219.5,333.6 220.8,334.8 221.7,336.2 222.3,337.8 222.5,339.5Z" fill="#ecc8b4" stroke="#3a2313" stroke-width="1.3"/>
<path d="M218,332.8L216.6,336.3M216.6,336.3L222.5,339.9M214,341.9L219.8,345.1M214,337.1L214,341.9M214,337.1L216.6,336.3M208.8,344.7L214,341.9M212.3,332.3L213.1,336.6M213.1,336.6L206.8,337.6M214,337.1L213.1,336.6" fill="none" stroke="#3a2313" stroke-width="1.2" stroke-linecap="round" stroke-linejoin="round"/>
<path d="M175.4,358.7 175,359.7 174.4,360.6 173.5,361.4 172.4,361.9 171.2,362.3 169.9,362.4 168.5,362.2 167.3,361.8 166.1,361.2 165.1,360.4 164.3,359.5 163.8,358.5 163.6,357.4 163.6,356.3 164,355.3 164.6,354.4 165.5,353.6 166.6,353.1 167.8,352.7 169.1,352.6 170.5,352.8 171.7,353.2 172.9,353.8 173.9,354.6 174.7,355.5 175.2,356.5 175.4,357.6 175.4,358.7Z" fill="#ecc8b4" stroke="#3a2313" stroke-width="1.3"/>
<path d="M174.6,355.4L170.4,357.8M168,352.7L168.9,356.9M168.9,356.9L170.4,357.8M171.2,362.2L170.4,357.8M164.1,359L168.9,356.9" fill="none" stroke="#3a2313" stroke-width="1.2" stroke-linecap="round" stroke-linejoin="round"/>
<path d="M227.2,354.4 227.3,355.5 227.2,356.7 226.6,357.9 225.8,358.9 224.7,359.9 223.4,360.7 222,361.3 220.5,361.6 218.9,361.7 217.5,361.5 216.2,361.1 215.1,360.4 214.3,359.6 213.8,358.6 213.7,357.5 213.8,356.3 214.4,355.1 215.2,354.1 216.3,353.1 217.6,352.3 219,351.7 220.5,351.4 222.1,351.3 223.5,351.5 224.8,351.9 225.9,352.6 226.7,353.4 227.2,354.4Z" fill="#ecc8b4" stroke="#3a2313" stroke-width="1.3"/>
<path d="M223.5,351.5L221.8,357.2M224.3,360.2L221.8,357.2M216.5,361.2L218.9,356.9M215.6,353.6L218.9,356.9M221.8,357.2L218.9,356.9" fill="none" stroke="#3a2313" stroke-width="1.2" stroke-linecap="round" stroke-linejoin="round"/>
<path d="M204.3,351.8 204.2,352.6 203.9,353.3 203.4,353.9 202.7,354.5 201.9,354.9 201,355.1 200,355.2 199,355.1 198.1,354.9 197.3,354.5 196.6,353.9 196.1,353.3 195.8,352.6 195.7,351.8 195.8,351 196.1,350.3 196.6,349.7 197.3,349.1 198.1,348.7 199,348.5 200,348.4 201,348.5 201.9,348.7 202.7,349.1 203.4,349.7 203.9,350.3 204.2,351 204.3,351.8Z" fill="#ecc8b4" stroke="#3a2313" stroke-width="1.3"/>
<path d="" fill="none" stroke="#3a2313" stroke-width="1.2" stroke-linecap="round" stroke-linejoin="round"/>
<path d="M171.5,348 L180,351.5 L187,352.5 L196,351" stroke="#3a2313" stroke-width="1.5" fill="none"/>
<circle cx="67.8" cy="243.4" r="8.6" fill="#fff" stroke="#4a4a4a" stroke-width="1"/>
<text x="67.8" y="246.9" font-family="Liberation Sans" font-weight="bold" font-size="12" text-anchor="middle" textLength="6.8" lengthAdjust="spacingAndGlyphs" fill="#111">C</text>
<text x="-0.3" y="282.9" font-family="Liberation Sans" font-size="12" textLength="14" lengthAdjust="spacingAndGlyphs" text-anchor="start" fill="#1c1c1c">CP</text>
<path d="M16.6,279.7H101" stroke="#3a3a3a" stroke-width="1.3"/>
<text x="1.2" y="318.9" font-family="Liberation Sans" font-size="12" textLength="12.6" lengthAdjust="spacingAndGlyphs" text-anchor="start" fill="#1c1c1c">AF</text>
<path d="M16.6,315.7H73" stroke="#3a3a3a" stroke-width="1.3"/>
<text x="0.7" y="340.2" font-family="Liberation Sans" font-size="12" textLength="12.8" lengthAdjust="spacingAndGlyphs" text-anchor="start" fill="#1c1c1c">FC</text>
<path d="M16.6,337H112" stroke="#3a3a3a" stroke-width="1.3"/>
<text x="-0.3" y="399.9" font-family="Liberation Sans" font-size="12" textLength="14" lengthAdjust="spacingAndGlyphs" text-anchor="start" fill="#1c1c1c">CP</text>
<path d="M16.6,396.7H86" stroke="#3a3a3a" stroke-width="1.3"/>
<text x="127.5" y="416.6" font-family="Liberation Sans" font-size="12" textLength="15" lengthAdjust="spacingAndGlyphs" text-anchor="start" fill="#1c1c1c">OC</text>
<path d="M143,413.4H156" stroke="#3a3a3a" stroke-width="1.3"/>
<path d="M156,413.4 Q161,414 164,421" fill="none" stroke="#3a3a3a" stroke-width="1.2"/>
<path d="M419,279 423.9,281.6 428.8,284 433.6,286.3 438.5,288.4 443.4,290.4 448.3,292.2 453.3,293.9 458.2,295.4 463.2,296.7 468.3,298 473.4,299.1 478.6,300 483.8,300.8 489.1,301.5 494.5,302 500,302.5 505.5,302.8 511.2,302.9 517,303 522.2,302.9 527.5,302.8 532.8,302.5 538.1,302 543.4,301.5 548.8,300.8 554.1,299.9 559.5,299 564.9,297.9 570.3,296.6 575.7,295.2 581.2,293.6 586.6,291.9 592,290 597.4,287.9 602.8,285.7 608.2,283.3 613.6,280.8 619,278 419,279 417.4,283.3 416,288 414.8,293.1 413.8,298.5 412.9,304.2 412.2,310 411.7,316 411.4,322.2 411.3,328.4 411.3,334.6 411.5,340.8 411.9,347 412.5,353 413.3,358.8 414.3,364.5 415.4,369.9 416.7,375 418.3,379.7 420,384 424.7,381.4 429.5,378.9 434.2,376.6 439,374.5 443.8,372.4 448.6,370.6 453.4,368.8 458.3,367.2 463.2,365.8 468.1,364.5 473.1,363.3 478.1,362.3 483.2,361.4 488.3,360.7 493.5,360.1 498.8,359.6 504.1,359.3 509.5,359.1 515,359 520.5,359.1 526,359.3 531.6,359.7 537.1,360.3 542.6,361 548.1,361.8 553.5,362.8 559,363.9 564.4,365.2 569.8,366.6 575.2,368.1 580.6,369.7 585.9,371.4 591.2,373.3 596.4,375.2 601.6,377.3 606.8,379.4 611.9,381.7 617,384 618.5,379.7 619.8,375 621,369.9 622,364.5 622.9,358.8 623.5,353 624.1,346.9 624.5,340.8 624.7,334.5 624.8,328.2 624.7,322 624.5,315.8 624.1,309.7 623.6,303.8 623,298 622.2,292.5 621.3,287.3 620.2,282.5 619,278Z" fill="url(#gD)"/>
<g clip-path="url(#cD)" fill="none"><path d="M518,234.4 A107,96.6 0 0 0 518,427.6" stroke="#4f596b" stroke-width="1.05"/><path d="M518,238 A104,93 0 0 0 518,424" stroke="#4f596b" stroke-width="1.05"/><path d="M518,241.6 A101,89.4 0 0 0 518,420.4" stroke="#4f596b" stroke-width="1.05"/><path d="M518,245.7 A97.5,85.3 0 0 0 518,416.3" stroke="#4f596b" stroke-width="1.05"/><path d="M518,249.8 A94,81.2 0 0 0 518,412.2" stroke="#4f596b" stroke-width="1.05"/><path d="M518,254.3 A90,76.7 0 0 0 518,407.7" stroke="#596070" stroke-width="1.05" stroke-dasharray="2.8 2.6"/><path d="M518,258.2 A86.5,72.8 0 0 0 518,403.8" stroke="#4f596b" stroke-width="1.05"/><path d="M518,262.5 A82.5,68.5 0 0 0 518,399.5" stroke="#596070" stroke-width="1.05" stroke-dasharray="2.8 2.6"/><path d="M518,266.6 A78.7,64.4 0 0 0 518,395.4" stroke="#4f596b" stroke-width="1.05"/><path d="M518,270.7 A74.7,60.3 0 0 0 518,391.3" stroke="#596070" stroke-width="1.05" stroke-dasharray="2.8 2.6"/><path d="M518,274.9 A70.6,56.1 0 0 0 518,387.1" stroke="#4f596b" stroke-width="1.05"/><path d="M518,279.3 A66.2,51.7 0 0 0 518,382.7" stroke="#596070" stroke-width="1.05" stroke-dasharray="2.8 2.6"/><path d="M518,283.6 A61.7,47.4 0 0 0 518,378.4" stroke="#4f596b" stroke-width="1.05"/><path d="M518,287.9 A57.2,43.1 0 0 0 518,374.1" stroke="#596070" stroke-width="1.05" stroke-dasharray="2.8 2.6"/><path d="M518,292 A52.7,39 0 0 0 518,370" stroke="#596070" stroke-width="1.05" stroke-dasharray="2.8 2.6"/><path d="M518,295.9 A48.2,35.1 0 0 0 518,366.1" stroke="#596070" stroke-width="1.05" stroke-dasharray="2.8 2.6"/><path d="M518,299.8 A43.7,31.2 0 0 0 518,362.2" stroke="#596070" stroke-width="1.05" stroke-dasharray="2.8 2.6"/><path d="M518,303.5 A39.2,27.5 0 0 0 518,358.5" stroke="#596070" stroke-width="1.05" stroke-dasharray="2.8 2.6"/><path d="M518,234.4 A107,96.6 0 0 1 518,427.6" stroke="#4f596b" stroke-width="1.05"/><path d="M518,238 A104,93 0 0 1 518,424" stroke="#4f596b" stroke-width="1.05"/><path d="M518,241.6 A101,89.4 0 0 1 518,420.4" stroke="#4f596b" stroke-width="1.05"/><path d="M518,245.7 A97.5,85.3 0 0 1 518,416.3" stroke="#4f596b" stroke-width="1.05"/><path d="M518,249.8 A94,81.2 0 0 1 518,412.2" stroke="#4f596b" stroke-width="1.05"/><path d="M518,254.3 A90,76.7 0 0 1 518,407.7" stroke="#596070" stroke-width="1.05" stroke-dasharray="2.8 2.6"/><path d="M518,258.2 A86.5,72.8 0 0 1 518,403.8" stroke="#4f596b" stroke-width="1.05"/><path d="M518,262.5 A82.5,68.5 0 0 1 518,399.5" stroke="#596070" stroke-width="1.05" stroke-dasharray="2.8 2.6"/><path d="M518,266.6 A78.7,64.4 0 0 1 518,395.4" stroke="#4f596b" stroke-width="1.05"/><path d="M518,270.7 A74.7,60.3 0 0 1 518,391.3" stroke="#596070" stroke-width="1.05" stroke-dasharray="2.8 2.6"/><path d="M518,274.9 A70.6,56.1 0 0 1 518,387.1" stroke="#4f596b" stroke-width="1.05"/><path d="M518,279.3 A66.2,51.7 0 0 1 518,382.7" stroke="#596070" stroke-width="1.05" stroke-dasharray="2.8 2.6"/><path d="M518,283.6 A61.7,47.4 0 0 1 518,378.4" stroke="#4f596b" stroke-width="1.05"/><path d="M518,287.9 A57.2,43.1 0 0 1 518,374.1" stroke="#596070" stroke-width="1.05" stroke-dasharray="2.8 2.6"/><path d="M518,292 A52.7,39 0 0 1 518,370" stroke="#596070" stroke-width="1.05" stroke-dasharray="2.8 2.6"/><path d="M518,295.9 A48.2,35.1 0 0 1 518,366.1" stroke="#596070" stroke-width="1.05" stroke-dasharray="2.8 2.6"/><path d="M518,299.8 A43.7,31.2 0 0 1 518,362.2" stroke="#596070" stroke-width="1.05" stroke-dasharray="2.8 2.6"/><path d="M518,303.5 A39.2,27.5 0 0 1 518,358.5" stroke="#596070" stroke-width="1.05" stroke-dasharray="2.8 2.6"/></g>
<path d="M551.2,320.6h4.4M496.3,316h4.4M538.7,315.7h4.4M540.3,343.6h4.4M509.6,330.6h4.4M488.2,344.4h4.4M492.8,326.2h4.4M551.3,335.3h4.4M534.7,336.7h4.4M483.5,323.5h4.4M514.7,323.2h4.4M520.3,338.7h4.4M535.9,324.2h4.4M482.4,333.9h4.4M500.7,350.2h4.4M540.1,330.5h4.4M526.8,327h4.4M495.2,333.4h4.4M517.7,306.5h4.4M521.7,357.2h4.4M505.8,324.6h4.4M518.6,314h4.4M521.4,346.1h4.4M498.6,308.8h4.4M507.6,311.5h4.4M525.6,316.9h4.4M507.1,346.8h4.4M548.9,343.1h4.4M547.4,326.7h4.4M514.9,348.6h4.4M527.4,351.1h4.4M510.7,304.7h4.4M533.8,309.3h4.4M511,337.6h4.4M485.7,315.2h4.4M510.6,357.4h4.4M497.7,341.6h4.4M527.3,337.9h4.4M538.1,352.4h4.4M526.8,309.6h4.4M476,331h4.4M503.7,337.8h4.4M493.4,350.8h4.4M481.1,341.6h4.4M517.7,331.5h4.4M532.9,343.3h4.4M554.8,327.1h4.4M547.1,314.5h4.4M491.6,310.9h4.4M543.4,321.1h4.4M544.6,349.1h4.4M512.2,316.5h4.4M499.5,327.7h4.4M503.4,317.9h4.4M543.1,336.9h4.4M488.9,336.5h4.4M503.8,356.6h4.4" stroke="#5a5050" stroke-width="1" fill="none"/>
<path d="M426,240 612,240 612,268 607.7,270.5 603.4,272.8 599,274.9 594.5,276.9 590,278.8 585.4,280.5 580.7,282.1 575.9,283.6 571.1,284.9 566.1,286.1 561.1,287.1 556,288 550.8,288.8 545.4,289.5 540,290.1 534.4,290.5 528.7,290.8 522.9,290.9 517,291 511.2,290.9 505.5,290.8 500,290.5 494.6,290.1 489.2,289.5 484,288.8 478.9,288 473.9,287.1 469,286.1 464.3,284.9 459.6,283.6 455,282.1 450.6,280.5 446.2,278.8 442,276.9 437.8,274.9 433.8,272.8 429.8,270.5 426,268Z" fill="#f4f4d8"/>
<path d="M428,397 429.2,396.6 430.8,396 432.8,395.3 435,394.5 437.4,393.5 440,392.5 442.9,391.3 446.1,389.9 449.5,388.4 453,386.8 456.6,385.3 460,384 463.2,382.8 466.1,381.7 469.1,380.6 472.2,379.6 475.8,378.5 480,377.5 485.1,376.4 490.9,375.1 497.2,373.9 503.5,372.9 509.6,372 515,371.5 519.6,371.3 523.7,371.4 527.5,371.7 531.3,372.2 535.4,373 540,374 545.3,375.3 551,377 557,378.9 563.1,380.9 569.2,383 575,385 581,387.1 587.4,389.4 593.7,391.7 599.5,393.9 604.4,395.7 608,397 608,424 428,424Z" fill="#f4f4d8"/>
<g clip-path="url(#cBT)"><g stroke="#33251a" fill="none" stroke-linecap="round" stroke-linejoin="round"><path d="M432.3,242.3 432.7,244.9 432.2,247.5 432.7,249.9 432.2,252.4 432.4,255.3 433,257.6 432.5,260.5 433,262.7 432.6,265.4 430.4,266.5" stroke-width="3.5"/><path d="M440.8,242.4 440.3,245 440.4,247.7 439.7,250.3 441.1,253.4 441,256.7 441.3,259.8 442.4,262.7 441.6,265.3 442.3,268" stroke-width="5.7"/><path d="M433,261.2 436.4,261.7 439.2,261.9 441.7,261.9 445,262 448.1,262.3 450.5,262.4 453.4,262.8 456.2,263 458.7,263.6 462.3,263.7 465.2,264.2 467.8,264.4 471.2,264.8 474.1,265.2 476.6,265.4 479.2,265.7 482.2,266.1 485.5,266.5 487.9,266.7 490.4,266.9 493.3,267.2 496.3,267.3 499.3,267.4 502.1,267.8 505.4,267.9 507.3,267.8 510.5,268 512.6,267.8 514.9,267.9 517.1,267.9 519.7,267.9 521.9,267.9 525,267.5 527.5,267.2 529.9,267 532.4,266.9 534.9,266.6 537.1,266.3 540,266" stroke-width="5.5"/><path d="M452,242.4 452,245.4 451,248.8 450.8,251.7 451.6,255.1 451.1,258.2 452.2,261.3 451.2,264 451.4,266.5 450.7,269.3 450.2,272" stroke-width="5.3"/><path d="M451.9,243.3 454.7,243.5 457.7,243.9 459.8,244 463.3,243 466.1,242.4" stroke-width="5.1"/><path d="M462.6,242.3 461.7,244.8 462.7,247.4 462.4,250 462.9,252.4 462.9,255.1 463.6,257.6 463.2,260.5 463.9,263 463.5,265.9 463.8,268.4 463.6,271.4 462.8,274.3 462.7,277.1 463,280" stroke-width="5.5"/><path d="M462.2,243.2 465.1,243 467.7,243.1 470.1,243.2 473.4,243.1 476.1,243.4 479.1,243.2" stroke-width="5.3"/><path d="M479.5,243.2 479.2,246.2 479,249.2 479,251.7 478.7,255.3 477.9,257.4 477.5,259.9 476.9,262.5 476.5,265" stroke-width="5.5"/><path d="M473.3,269.2 472.7,272.1 472,275 471.8,278.1 471.9,280.8 472.3,284.7 472.6,288" stroke-width="5.3"/><path d="M492.9,242.3 492.9,244.8 492.5,247.5 491.7,249.8 492.5,252.4 492.6,255 493,257.5 491.6,260.1 491.5,262.7 490.8,265.6 490.8,268" stroke-width="5.5"/><path d="M487.3,243.1 489.3,243.2 492,243.3 495.1,243.2 497.1,243.2 500,243.2" stroke-width="5.1"/><path d="M477.2,252.3 480.9,252 483,252 485.9,251.5 487.7,251.4 490.8,251.3 492.4,250.9 495.9,251.1 498.6,250.9 501.5,250.5 505,250.4 507.7,250.4" stroke-width="5.1"/><path d="M507.2,242.4 508.3,244.9 508.9,247.7 509.2,250.3 510.2,247.5 510.9,245.1 512.9,242.3" stroke-width="4.9"/><path d="M508.8,250.4 509.4,253.6 509.7,256.9 510.2,259.9 510.1,262.9 509.3,265.5 508.4,268" stroke-width="5.3"/><path d="M522.1,242.3 522.5,244.9 521.9,247.3 522.5,250.1 522.6,252.3 522.3,254.9 522.6,257.5 522.6,260 523,262.8 523.2,265.2 523.3,268" stroke-width="5.5"/><path d="M534.3,242.4 534.3,245.1 533.9,247.9 533.9,250.7 533.8,253.6 534.1,256.8 534.6,259.8 534.6,263 535,266" stroke-width="5.5"/><path d="M534.3,253.5 537,253.8 540,254.3" stroke-width="4.9"/><path d="M483.5,270.5 483.8,273.4 483.5,276.4 483.4,279 483,281.9 482.6,285.4 482.4,288.5" stroke-width="5.3"/><path d="M494,270.1 493,272.7 493,275.7 492.6,278.3 493.1,281.1 493.2,283.7 492,286.2 491.5,289" stroke-width="5.3"/><path d="M504.3,268.9 504.5,272 504.7,275.1 504.3,277.9 504.1,281 503.9,284 503.8,287.2 503.2,290.5" stroke-width="5.3"/><path d="M515.8,269.9 516,273 515.7,276 516.8,279 515.8,282.2 515.6,285.1 515.4,288.1 515.5,291" stroke-width="5.3"/><path d="M524.9,269.1 525.2,271.8 524.6,274.9 525.5,278 525.7,281.1 525.7,283.4 524.5,285.9 525.2,288.5 524.6,291" stroke-width="5.3"/><path d="M534.5,269.2 534.3,271.9 534.1,275.1 534.8,278 534.3,281 534.3,283.9 533.6,286.6 533.7,289.5" stroke-width="5.3"/><path d="M536.3,244.5 538.1,246.5 540.5,248.6 541.7,250.6 544.6,252.8 545,255.5 545.7,258.6 545.6,261.4 546,264.2 545.8,267 547.4,270 546.7,272.8 547.5,275.4 547.3,278.1 546.4,281 546.7,283.7 547.4,286.5 547,289" stroke-width="5.9"/><path d="M535.8,254.1 538,255.2 540.1,256.7 543,258" stroke-width="5.1"/><path d="M556.5,242.6 557.1,245 556.5,247.5 556,249.9 555.5,252.6 555.5,255.2 554.7,257.8 555.4,260.3 553.8,262.8 554.3,265.5 554.1,268.1 553.9,270.6 554.2,273.6 554,276.1 554.2,279 555.3,281.5 555.5,284.4 555.5,287" stroke-width="5.9"/><path d="M554.9,243 557.9,242.7 560.4,242.4 564,242.3" stroke-width="5.3"/><path d="M564.2,242.3 565,245.3 564.7,247.7 564.6,250.8 565.8,253.6 564.9,256.5 566.1,259.3 566.5,261.9 566.2,264.8 566.7,267.4 566.9,270.3 565.9,273.1 567,275.7 566.9,278.6 567.8,281.3 567.4,284" stroke-width="5.9"/><path d="M576,242.3 576.5,244.7 576.5,247.6 576.3,250.2 576.6,252.9 576.1,255.7 576.8,258.3 576.4,261.1 576.6,263.7 576.9,266.4 576.1,268.9 577.1,271.6 575.8,274.3 576.5,277" stroke-width="5.9"/><path d="M587.7,242.6 588.3,245 587,247.5 587.9,250.3 587.6,252.6 587.5,255 587.3,258 588.3,260.2 587.2,262.9 587.9,265.4 587,267.9 587.4,270.6 587.7,273" stroke-width="5.7"/><path d="M581.1,244.1 584.3,244.1 586.8,244.1 589.4,243.9 591.9,244.1 594.6,244" stroke-width="5.3"/><path d="M571.7,251 574.8,251.5 577.1,252.2 580.2,252.7 582.4,253.3 584.2,254.1 587.6,254.7 588.9,255.4 592.5,255.8 595.7,256.5 597.5,257" stroke-width="5.3"/><path d="M603.1,242.2 603,245 602.3,247.5 602.8,249.9 603.4,252.6 602.5,255.1 603.2,257.8 602.3,260.2 603.1,263 603.2,265.4 603,268" stroke-width="3.5"/><path d="M544.3,256.4 546.6,256.7 549.4,257.1 552,257.3 554,257.5 557.3,257.8 559.1,258 561.1,258.3 564,258.5" stroke-width="5.3"/><path d="M540.2,266 542.5,266.3 545.2,266.5 547.8,267.1 550.9,267.3 553.6,267.6 555.8,268 558.9,268.7 561.5,269 564.5,269.4 567,270" stroke-width="5.3"/></g></g>
<g clip-path="url(#cBB)"><path d="M476,360H608V422H476Z" fill="#33251a"/><g stroke="#33251a" fill="none" stroke-linecap="round"><path d="M440.5,392 439.9,395.4 439.8,398.6 439.1,401.6 439.1,404.9 439.8,408.5 439.7,412 440.7,415.5 441,419" stroke-width="6.3"/><path d="M449.2,388 449.7,391.5 450,394.7 449.6,398.3 449.3,401.7 449.7,405 450.3,408.5 449.4,412 449.2,415.4 449,419" stroke-width="6.3"/><path d="M440.1,400.7 443.7,400.7 446.8,400.9 450,401" stroke-width="5.3"/><path d="M459.7,383.9 459.8,387.2 460.3,390.4 460.2,393.5 460,396.7 459.7,400.1 459.5,403.1 459.4,406.2 459.6,409 459.6,412.3 459.9,415.5 459,418.5" stroke-width="7.3"/><path d="M468.3,378.8 469.1,382.3 468.5,385.5 470,388.6 470.4,392 471.1,395 472.4,398 474,401" stroke-width="5.8"/><path d="M479.6,377.1 479.9,380 479.7,382.9 479.5,385.9 479,389.1 478.9,392.1 478.6,394.9 479.2,398.2 478.5,401.2 479,404.2 478.7,406.9 478.8,409.9 478.7,413 479,416 478.5,419" stroke-width="8.3"/></g><g fill="#f4f4d8"><rect x="480.9" y="375.2" width="8.7" height="18.6" rx="4.4"/><rect x="492.9" y="373.7" width="9.2" height="23.1" rx="4.6"/><rect x="507.9" y="373.2" width="9.2" height="22.3" rx="4.6"/><rect x="522.3" y="374.2" width="9.2" height="21.3" rx="4.6"/><rect x="536.9" y="375.7" width="7.2" height="14.1" rx="3.6"/><rect x="548.9" y="376.9" width="11" height="16.8" rx="5.5"/><rect x="562.7" y="380.2" width="9.4" height="13.6" rx="4.7"/><rect x="573.5" y="384.8" width="9.4" height="10.3" rx="4.7"/><rect x="586.5" y="390.6" width="8" height="8.8" rx="4"/><rect x="597.3" y="395.7" width="7.3" height="6.6" rx="3.3"/><rect x="485.4" y="393.2" width="8.4" height="10" rx="4.2"/><rect x="512.5" y="395.2" width="9.2" height="10" rx="4.6"/><rect x="533.5" y="396" width="9.1" height="9.8" rx="4.6"/><rect x="560.5" y="399.2" width="13.6" height="11.6" rx="5.8"/><rect x="576.4" y="405" width="13.7" height="11.8" rx="5.9"/><rect x="593.7" y="406.2" width="8" height="10.6" rx="4"/><rect x="478.9" y="403.7" width="8" height="22.3" rx="4"/><rect x="494.4" y="400.8" width="7.7" height="25.2" rx="3.9"/><rect x="502.9" y="403.7" width="10.2" height="22.3" rx="5.1"/><rect x="520.9" y="405.2" width="9.2" height="20.8" rx="4.6"/><rect x="542.9" y="403.6" width="12.6" height="22.4" rx="6.3"/><rect x="528.9" y="407.2" width="9.2" height="18.8" rx="4.6"/><rect x="588.9" y="417.2" width="9.2" height="8.8" rx="4.4"/></g></g>
<path d="M427,241V266M610,241V266M429,400V424M609,398V424" stroke="#333" stroke-width="2.2" stroke-dasharray="1 1.6" fill="none"/>
<path d="M419,270 426,268 429.8,270.5 433.8,272.8 437.8,274.9 442,276.9 446.2,278.8 450.6,280.5 455,282.1 459.6,283.6 464.3,284.9 469,286.1 473.9,287.1 478.9,288 484,288.8 489.2,289.5 494.6,290.1 500,290.5 505.5,290.8 511.2,290.9 517,291 522.9,290.9 528.7,290.8 534.4,290.5 540,290.1 545.4,289.5 550.8,288.8 556,288 561.1,287.1 566.1,286.1 571.1,284.9 575.9,283.6 580.7,282.1 585.4,280.5 590,278.8 594.5,276.9 599,274.9 603.4,272.8 607.7,270.5 612,268 619,270 619.4,270.5 619.7,271.1 620,271.6 620.2,272.1 620.3,272.7 620.4,273.2 620.5,273.7 620.5,274.3 620.4,274.8 620.3,275.3 620.2,275.9 620,276.4 619.7,276.9 619.4,277.5 619,278 613.6,280.8 608.2,283.3 602.8,285.7 597.4,287.9 592,290 586.6,291.9 581.2,293.6 575.7,295.2 570.3,296.6 564.9,297.9 559.5,299 554.1,299.9 548.8,300.8 543.4,301.5 538.1,302 532.8,302.5 527.5,302.8 522.2,302.9 517,303 511.2,302.9 505.5,302.8 500,302.5 494.5,302 489.1,301.5 483.8,300.8 478.6,300 473.4,299.1 468.3,298 463.2,296.7 458.2,295.4 453.3,293.9 448.3,292.2 443.4,290.4 438.5,288.4 433.6,286.3 428.8,284 423.9,281.6 419,279 418.5,278.5 418.1,277.9 417.7,277.4 417.4,276.8 417.2,276.2 417.1,275.6 417,275 417,274.4 417.1,273.8 417.2,273.2 417.4,272.6 417.7,272 418.1,271.3 418.5,270.7 419,270Z" fill="#dde5f2"/>
<path d="M419,270 426,268 429.8,270.5 433.8,272.8 437.8,274.9 442,276.9 446.2,278.8 450.6,280.5 455,282.1 459.6,283.6 464.3,284.9 469,286.1 473.9,287.1 478.9,288 484,288.8 489.2,289.5 494.6,290.1 500,290.5 505.5,290.8 511.2,290.9 517,291 522.9,290.9 528.7,290.8 534.4,290.5 540,290.1 545.4,289.5 550.8,288.8 556,288 561.1,287.1 566.1,286.1 571.1,284.9 575.9,283.6 580.7,282.1 585.4,280.5 590,278.8 594.5,276.9 599,274.9 603.4,272.8 607.7,270.5 612,268 619,270 619.4,270.5 619.7,271.1 620,271.6 620.2,272.1 620.3,272.7 620.4,273.2 620.5,273.7 620.5,274.3 620.4,274.8 620.3,275.3 620.2,275.9 620,276.4 619.7,276.9 619.4,277.5 619,278 613.6,280.8 608.2,283.3 602.8,285.7 597.4,287.9 592,290 586.6,291.9 581.2,293.6 575.7,295.2 570.3,296.6 564.9,297.9 559.5,299 554.1,299.9 548.8,300.8 543.4,301.5 538.1,302 532.8,302.5 527.5,302.8 522.2,302.9 517,303 511.2,302.9 505.5,302.8 500,302.5 494.5,302 489.1,301.5 483.8,300.8 478.6,300 473.4,299.1 468.3,298 463.2,296.7 458.2,295.4 453.3,293.9 448.3,292.2 443.4,290.4 438.5,288.4 433.6,286.3 428.8,284 423.9,281.6 419,279 418.5,278.5 418.1,277.9 417.7,277.4 417.4,276.8 417.2,276.2 417.1,275.6 417,275 417,274.4 417.1,273.8 417.2,273.2 417.4,272.6 417.7,272 418.1,271.3 418.5,270.7 419,270Z" fill="none" stroke="#3a3a3a" stroke-width="1.2" stroke-dasharray="0 2.8" stroke-linecap="round"/>
<path d="M420,384 424.7,381.4 429.5,378.9 434.2,376.6 439,374.5 443.8,372.4 448.6,370.6 453.4,368.8 458.3,367.2 463.2,365.8 468.1,364.5 473.1,363.3 478.1,362.3 483.2,361.4 488.3,360.7 493.5,360.1 498.8,359.6 504.1,359.3 509.5,359.1 515,359 520.5,359.1 526,359.3 531.6,359.7 537.1,360.3 542.6,361 548.1,361.8 553.5,362.8 559,363.9 564.4,365.2 569.8,366.6 575.2,368.1 580.6,369.7 585.9,371.4 591.2,373.3 596.4,375.2 601.6,377.3 606.8,379.4 611.9,381.7 617,384 617.5,384.7 617.8,385.3 618.1,386 618.2,386.6 618.2,387.2 618.1,387.8 617.9,388.4 617.6,389 617.1,389.6 616.6,390.2 615.9,390.8 615.1,391.4 614.2,391.9 613.1,392.5 612,393 608,396 608,397 604.4,395.7 599.5,393.9 593.7,391.7 587.4,389.4 581,387.1 575,385 569.2,383 563.1,380.9 557,378.9 551,377 545.3,375.3 540,374 535.4,373 531.3,372.2 527.5,371.7 523.7,371.4 519.6,371.3 515,371.5 509.6,372 503.5,372.9 497.2,373.9 490.9,375.1 485.1,376.4 480,377.5 475.8,378.5 472.2,379.6 469.1,380.6 466.1,381.7 463.2,382.8 460,384 456.6,385.3 453,386.8 449.5,388.4 446.1,389.9 442.9,391.3 440,392.5 437.4,393.5 435,394.5 432.8,395.3 430.8,396 429.2,396.6 428,397 421,393 420.4,392.5 419.8,391.9 419.4,391.4 419,390.8 418.7,390.2 418.4,389.6 418.3,389 418.2,388.4 418.2,387.8 418.3,387.2 418.5,386.6 418.8,386 419.1,385.3 419.5,384.7 420,384Z" fill="#dde5f2"/>
<path d="M420,384 424.7,381.4 429.5,378.9 434.2,376.6 439,374.5 443.8,372.4 448.6,370.6 453.4,368.8 458.3,367.2 463.2,365.8 468.1,364.5 473.1,363.3 478.1,362.3 483.2,361.4 488.3,360.7 493.5,360.1 498.8,359.6 504.1,359.3 509.5,359.1 515,359 520.5,359.1 526,359.3 531.6,359.7 537.1,360.3 542.6,361 548.1,361.8 553.5,362.8 559,363.9 564.4,365.2 569.8,366.6 575.2,368.1 580.6,369.7 585.9,371.4 591.2,373.3 596.4,375.2 601.6,377.3 606.8,379.4 611.9,381.7 617,384 617.5,384.7 617.8,385.3 618.1,386 618.2,386.6 618.2,387.2 618.1,387.8 617.9,388.4 617.6,389 617.1,389.6 616.6,390.2 615.9,390.8 615.1,391.4 614.2,391.9 613.1,392.5 612,393 608,396 608,397 604.4,395.7 599.5,393.9 593.7,391.7 587.4,389.4 581,387.1 575,385 569.2,383 563.1,380.9 557,378.9 551,377 545.3,375.3 540,374 535.4,373 531.3,372.2 527.5,371.7 523.7,371.4 519.6,371.3 515,371.5 509.6,372 503.5,372.9 497.2,373.9 490.9,375.1 485.1,376.4 480,377.5 475.8,378.5 472.2,379.6 469.1,380.6 466.1,381.7 463.2,382.8 460,384 456.6,385.3 453,386.8 449.5,388.4 446.1,389.9 442.9,391.3 440,392.5 437.4,393.5 435,394.5 432.8,395.3 430.8,396 429.2,396.6 428,397 421,393 420.4,392.5 419.8,391.9 419.4,391.4 419,390.8 418.7,390.2 418.4,389.6 418.3,389 418.2,388.4 418.2,387.8 418.3,387.2 418.5,386.6 418.8,386 419.1,385.3 419.5,384.7 420,384Z" fill="none" stroke="#3a3a3a" stroke-width="1.2" stroke-dasharray="0 2.8" stroke-linecap="round"/>
<circle cx="401.4" cy="244.2" r="8.6" fill="#fff" stroke="#4a4a4a" stroke-width="1"/>
<text x="401.4" y="247.7" font-family="Liberation Sans" font-weight="bold" font-size="12" text-anchor="middle" textLength="6.8" lengthAdjust="spacingAndGlyphs" fill="#111">D</text>
<text x="335.3" y="277" font-family="Liberation Sans" font-size="12" textLength="13.2" lengthAdjust="spacingAndGlyphs" text-anchor="start" fill="#1c1c1c">CP</text>
<path d="M352,273.8H427.5" stroke="#3a3a3a" stroke-width="1.3"/>
<text x="336" y="323.8" font-family="Liberation Sans" font-size="12" textLength="12.4" lengthAdjust="spacingAndGlyphs" text-anchor="start" fill="#1c1c1c">FC</text>
<path d="M352,320.6H449" stroke="#3a3a3a" stroke-width="1.3"/>
<text x="336" y="339.2" font-family="Liberation Sans" font-size="12" textLength="12.4" lengthAdjust="spacingAndGlyphs" text-anchor="start" fill="#1c1c1c">AF</text>
<path d="M352,336H413" stroke="#3a3a3a" stroke-width="1.3"/>
<text x="335.3" y="391.6" font-family="Liberation Sans" font-size="12" textLength="13.2" lengthAdjust="spacingAndGlyphs" text-anchor="start" fill="#1c1c1c">CP</text>
<path d="M352,388.4H425.5" stroke="#3a3a3a" stroke-width="1.3"/>
<g fill="#efd6ca" stroke="#3a2313" stroke-width="1.2"><circle cx="497" cy="316" r="2.3"/><circle cx="501" cy="314" r="2.3"/><circle cx="505" cy="315" r="2.2"/><circle cx="506.5" cy="319" r="2.2"/><circle cx="502" cy="318.5" r="2.3"/><circle cx="498" cy="321" r="2.2"/><circle cx="503" cy="322.5" r="2.1"/><circle cx="495.5" cy="318.5" r="2"/><circle cx="535" cy="324" r="2.6"/><circle cx="539.5" cy="322.8" r="2.6"/><circle cx="544" cy="324" r="2.5"/><circle cx="546" cy="328" r="2.4"/><circle cx="541.5" cy="327.5" r="2.6"/><circle cx="537" cy="328.5" r="2.5"/><circle cx="534.5" cy="331" r="2.2"/><circle cx="540" cy="332" r="2.5"/><circle cx="544.5" cy="331.5" r="2.3"/><circle cx="496.5" cy="338" r="2.3"/><circle cx="500.5" cy="337" r="2.3"/><circle cx="496" cy="341.5" r="2.2"/><circle cx="500.5" cy="341.5" r="2.3"/><circle cx="504.5" cy="340" r="2.2"/><circle cx="505.5" cy="343.5" r="2"/></g>
<path d="M492,329h16" stroke="#5a4a44" stroke-width="1"/></svg></body></html>
